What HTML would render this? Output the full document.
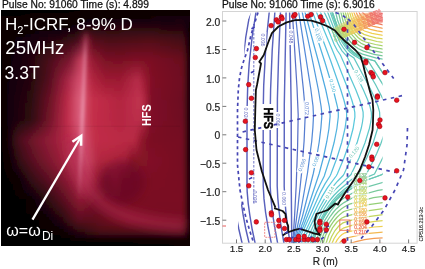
<!DOCTYPE html><html><head><meta charset="utf-8"><style>html,body{margin:0;padding:0;background:#fff;}svg{display:block;font-family:"Liberation Sans",sans-serif;will-change:transform;}</style></head><body><svg xmlns="http://www.w3.org/2000/svg" width="425" height="269" viewBox="0 0 425 269" font-family='"Liberation Sans", sans-serif'>
<rect width="425" height="269" fill="#fff"/>
<text x="2" y="7.5" font-size="10.25" fill="#111" stroke="#111" stroke-width="0.25">Pulse No: 91060 Time (s): 4.899</text>
<text x="222" y="7.5" font-size="10.25" fill="#111" stroke="#111" stroke-width="0.25">Pulse No: 91060 Time (s): 6.9016</text>
<defs><clipPath id="pc"><rect x="1" y="10" width="189" height="236"/></clipPath><filter id="b4u" filterUnits="userSpaceOnUse" x="0" y="0" width="200" height="260"><feGaussianBlur stdDeviation="5"/></filter><filter id="pb" x="-10%" y="-10%" width="120%" height="120%"><feGaussianBlur stdDeviation="2.2"/></filter><filter id="b1" x="-10%" y="-10%" width="120%" height="120%"><feGaussianBlur stdDeviation="1.0"/></filter><filter id="b3" x="-10%" y="-10%" width="120%" height="120%"><feGaussianBlur stdDeviation="3"/></filter><filter id="b2s" filterUnits="userSpaceOnUse" x="0" y="0" width="200" height="260"><feGaussianBlur stdDeviation="1.8"/></filter></defs>
<g clip-path="url(#pc)">
<defs><linearGradient id="r0" x1="-10" x2="200" y1="0" y2="0" gradientUnits="userSpaceOnUse"><stop offset="0.048" stop-color="#050103"/><stop offset="0.476" stop-color="#060103"/><stop offset="0.952" stop-color="#080203"/></linearGradient><linearGradient id="r1" x1="-10" x2="200" y1="0" y2="0" gradientUnits="userSpaceOnUse"><stop offset="0.048" stop-color="#050103"/><stop offset="0.476" stop-color="#060103"/><stop offset="0.952" stop-color="#080203"/></linearGradient><linearGradient id="r2" x1="-10" x2="200" y1="0" y2="0" gradientUnits="userSpaceOnUse"><stop offset="0.048" stop-color="#050103"/><stop offset="0.476" stop-color="#070103"/><stop offset="0.952" stop-color="#0b0204"/></linearGradient><linearGradient id="r3" x1="-10" x2="200" y1="0" y2="0" gradientUnits="userSpaceOnUse"><stop offset="0.048" stop-color="#060103"/><stop offset="0.476" stop-color="#080104"/><stop offset="0.952" stop-color="#110306"/></linearGradient><linearGradient id="r4" x1="-10" x2="200" y1="0" y2="0" gradientUnits="userSpaceOnUse"><stop offset="0.048" stop-color="#070203"/><stop offset="0.476" stop-color="#090204"/><stop offset="0.952" stop-color="#170308"/></linearGradient><linearGradient id="r5" x1="-10" x2="200" y1="0" y2="0" gradientUnits="userSpaceOnUse"><stop offset="0.048" stop-color="#080204"/><stop offset="0.381" stop-color="#0a0204"/><stop offset="0.476" stop-color="#100307"/><stop offset="0.714" stop-color="#170309"/><stop offset="0.919" stop-color="#1a0409"/><stop offset="0.952" stop-color="#140307"/></linearGradient><linearGradient id="r6" x1="-10" x2="200" y1="0" y2="0" gradientUnits="userSpaceOnUse"><stop offset="0.048" stop-color="#090204"/><stop offset="0.381" stop-color="#0c0205"/><stop offset="0.476" stop-color="#190409"/><stop offset="0.714" stop-color="#1f050b"/><stop offset="0.919" stop-color="#1f050b"/><stop offset="0.952" stop-color="#100206"/></linearGradient><linearGradient id="r7" x1="-10" x2="200" y1="0" y2="0" gradientUnits="userSpaceOnUse"><stop offset="0.048" stop-color="#090204"/><stop offset="0.381" stop-color="#0d0206"/><stop offset="0.476" stop-color="#21050c"/><stop offset="0.714" stop-color="#26060e"/><stop offset="0.919" stop-color="#23050d"/><stop offset="0.952" stop-color="#0c0205"/></linearGradient><linearGradient id="r8" x1="-10" x2="200" y1="0" y2="0" gradientUnits="userSpaceOnUse"><stop offset="0.048" stop-color="#090204"/><stop offset="0.105" stop-color="#0b0205"/><stop offset="0.190" stop-color="#0d0205"/><stop offset="0.333" stop-color="#110307"/><stop offset="0.381" stop-color="#130308"/><stop offset="0.419" stop-color="#1d050b"/><stop offset="0.457" stop-color="#2e0912"/><stop offset="0.476" stop-color="#2e0811"/><stop offset="0.490" stop-color="#2c070f"/><stop offset="0.571" stop-color="#2c060f"/><stop offset="0.667" stop-color="#2e0710"/><stop offset="0.714" stop-color="#2f0710"/><stop offset="0.762" stop-color="#2e0710"/><stop offset="0.919" stop-color="#29060e"/><stop offset="0.952" stop-color="#0a0204"/></linearGradient><linearGradient id="r9" x1="-10" x2="200" y1="0" y2="0" gradientUnits="userSpaceOnUse"><stop offset="0.048" stop-color="#090204"/><stop offset="0.105" stop-color="#0c0205"/><stop offset="0.190" stop-color="#0f0206"/><stop offset="0.333" stop-color="#180409"/><stop offset="0.381" stop-color="#1e050b"/><stop offset="0.419" stop-color="#27070f"/><stop offset="0.457" stop-color="#490f1e"/><stop offset="0.476" stop-color="#400b18"/><stop offset="0.490" stop-color="#370813"/><stop offset="0.571" stop-color="#340711"/><stop offset="0.667" stop-color="#370812"/><stop offset="0.714" stop-color="#380812"/><stop offset="0.762" stop-color="#390812"/><stop offset="0.919" stop-color="#310710"/><stop offset="0.952" stop-color="#0a0204"/></linearGradient><linearGradient id="r10" x1="-10" x2="200" y1="0" y2="0" gradientUnits="userSpaceOnUse"><stop offset="0.048" stop-color="#080204"/><stop offset="0.105" stop-color="#0d0205"/><stop offset="0.190" stop-color="#110307"/><stop offset="0.333" stop-color="#1f050c"/><stop offset="0.381" stop-color="#28070f"/><stop offset="0.419" stop-color="#320913"/><stop offset="0.457" stop-color="#641629"/><stop offset="0.476" stop-color="#520f1e"/><stop offset="0.490" stop-color="#430916"/><stop offset="0.571" stop-color="#3d0813"/><stop offset="0.667" stop-color="#400914"/><stop offset="0.714" stop-color="#420915"/><stop offset="0.762" stop-color="#430915"/><stop offset="0.919" stop-color="#380712"/><stop offset="0.952" stop-color="#0b0204"/></linearGradient><linearGradient id="r11" x1="-10" x2="200" y1="0" y2="0" gradientUnits="userSpaceOnUse"><stop offset="0.048" stop-color="#080203"/><stop offset="0.105" stop-color="#0e0206"/><stop offset="0.190" stop-color="#140308"/><stop offset="0.333" stop-color="#27060e"/><stop offset="0.381" stop-color="#320813"/><stop offset="0.419" stop-color="#3d0b17"/><stop offset="0.457" stop-color="#7f1d35"/><stop offset="0.476" stop-color="#641325"/><stop offset="0.490" stop-color="#4f0b19"/><stop offset="0.571" stop-color="#450916"/><stop offset="0.667" stop-color="#490916"/><stop offset="0.714" stop-color="#4b0917"/><stop offset="0.762" stop-color="#4e0917"/><stop offset="0.919" stop-color="#400813"/><stop offset="0.952" stop-color="#0b0204"/></linearGradient><linearGradient id="r12" x1="-10" x2="200" y1="0" y2="0" gradientUnits="userSpaceOnUse"><stop offset="0.048" stop-color="#070203"/><stop offset="0.105" stop-color="#0e0206"/><stop offset="0.190" stop-color="#160309"/><stop offset="0.286" stop-color="#26060e"/><stop offset="0.333" stop-color="#2f0711"/><stop offset="0.381" stop-color="#3c0a17"/><stop offset="0.419" stop-color="#4a0e1d"/><stop offset="0.438" stop-color="#6f192e"/><stop offset="0.457" stop-color="#90223c"/><stop offset="0.486" stop-color="#610f21"/><stop offset="0.490" stop-color="#590d1d"/><stop offset="0.548" stop-color="#500a19"/><stop offset="0.571" stop-color="#4d0a18"/><stop offset="0.619" stop-color="#4f0a18"/><stop offset="0.667" stop-color="#510a18"/><stop offset="0.690" stop-color="#520a19"/><stop offset="0.762" stop-color="#560a19"/><stop offset="0.919" stop-color="#470915"/><stop offset="0.952" stop-color="#0b0204"/></linearGradient><linearGradient id="r13" x1="-10" x2="200" y1="0" y2="0" gradientUnits="userSpaceOnUse"><stop offset="0.048" stop-color="#070103"/><stop offset="0.105" stop-color="#0f0206"/><stop offset="0.190" stop-color="#170409"/><stop offset="0.286" stop-color="#2c0710"/><stop offset="0.333" stop-color="#370914"/><stop offset="0.381" stop-color="#460c1a"/><stop offset="0.419" stop-color="#5a1425"/><stop offset="0.438" stop-color="#7e2036"/><stop offset="0.457" stop-color="#96253f"/><stop offset="0.486" stop-color="#6a1124"/><stop offset="0.490" stop-color="#630f20"/><stop offset="0.548" stop-color="#570b1b"/><stop offset="0.571" stop-color="#540b1a"/><stop offset="0.619" stop-color="#550b1a"/><stop offset="0.667" stop-color="#580b1a"/><stop offset="0.690" stop-color="#590c1b"/><stop offset="0.762" stop-color="#5c0b1b"/><stop offset="0.919" stop-color="#4c0916"/><stop offset="0.952" stop-color="#0c0204"/></linearGradient><linearGradient id="r14" x1="-10" x2="200" y1="0" y2="0" gradientUnits="userSpaceOnUse"><stop offset="0.048" stop-color="#060103"/><stop offset="0.105" stop-color="#0f0206"/><stop offset="0.190" stop-color="#19040a"/><stop offset="0.286" stop-color="#320812"/><stop offset="0.333" stop-color="#3f0b17"/><stop offset="0.381" stop-color="#500e1e"/><stop offset="0.419" stop-color="#6b1a2e"/><stop offset="0.438" stop-color="#8c263e"/><stop offset="0.457" stop-color="#9c2742"/><stop offset="0.486" stop-color="#721327"/><stop offset="0.490" stop-color="#6c1123"/><stop offset="0.548" stop-color="#5e0d1d"/><stop offset="0.571" stop-color="#5b0c1c"/><stop offset="0.619" stop-color="#5c0c1c"/><stop offset="0.667" stop-color="#5f0d1c"/><stop offset="0.690" stop-color="#610d1d"/><stop offset="0.762" stop-color="#620c1c"/><stop offset="0.919" stop-color="#520a18"/><stop offset="0.952" stop-color="#0c0205"/></linearGradient><linearGradient id="r15" x1="-10" x2="200" y1="0" y2="0" gradientUnits="userSpaceOnUse"><stop offset="0.048" stop-color="#060103"/><stop offset="0.105" stop-color="#100206"/><stop offset="0.190" stop-color="#1b040a"/><stop offset="0.286" stop-color="#380914"/><stop offset="0.333" stop-color="#480c1a"/><stop offset="0.381" stop-color="#5a1022"/><stop offset="0.419" stop-color="#7b2036"/><stop offset="0.438" stop-color="#9b2d47"/><stop offset="0.457" stop-color="#a22a45"/><stop offset="0.486" stop-color="#7b1529"/><stop offset="0.490" stop-color="#761327"/><stop offset="0.548" stop-color="#650e1f"/><stop offset="0.571" stop-color="#630d1e"/><stop offset="0.619" stop-color="#630d1d"/><stop offset="0.667" stop-color="#660e1e"/><stop offset="0.690" stop-color="#680e1f"/><stop offset="0.762" stop-color="#680d1e"/><stop offset="0.919" stop-color="#570a19"/><stop offset="0.952" stop-color="#0d0205"/></linearGradient><linearGradient id="r16" x1="-10" x2="200" y1="0" y2="0" gradientUnits="userSpaceOnUse"><stop offset="0.048" stop-color="#060103"/><stop offset="0.105" stop-color="#100206"/><stop offset="0.190" stop-color="#1d040b"/><stop offset="0.286" stop-color="#3e0a16"/><stop offset="0.333" stop-color="#500e1e"/><stop offset="0.381" stop-color="#641326"/><stop offset="0.419" stop-color="#8c263e"/><stop offset="0.438" stop-color="#aa334f"/><stop offset="0.457" stop-color="#a82c48"/><stop offset="0.486" stop-color="#84162c"/><stop offset="0.490" stop-color="#80152a"/><stop offset="0.548" stop-color="#6b0f21"/><stop offset="0.571" stop-color="#6a0e20"/><stop offset="0.619" stop-color="#6a0e1f"/><stop offset="0.667" stop-color="#6d0f20"/><stop offset="0.690" stop-color="#6f0f21"/><stop offset="0.762" stop-color="#6f0e20"/><stop offset="0.919" stop-color="#5d0b1b"/><stop offset="0.952" stop-color="#0d0205"/></linearGradient><linearGradient id="r17" x1="-10" x2="200" y1="0" y2="0" gradientUnits="userSpaceOnUse"><stop offset="0.048" stop-color="#050103"/><stop offset="0.105" stop-color="#100207"/><stop offset="0.190" stop-color="#1f050b"/><stop offset="0.286" stop-color="#440a18"/><stop offset="0.333" stop-color="#590f21"/><stop offset="0.381" stop-color="#6f152a"/><stop offset="0.419" stop-color="#9c2c46"/><stop offset="0.438" stop-color="#b93a57"/><stop offset="0.457" stop-color="#ae2f4b"/><stop offset="0.486" stop-color="#8c182f"/><stop offset="0.490" stop-color="#89172d"/><stop offset="0.548" stop-color="#721023"/><stop offset="0.571" stop-color="#711022"/><stop offset="0.619" stop-color="#700f21"/><stop offset="0.667" stop-color="#741022"/><stop offset="0.690" stop-color="#761023"/><stop offset="0.762" stop-color="#750f21"/><stop offset="0.919" stop-color="#630c1c"/><stop offset="0.952" stop-color="#0e0205"/></linearGradient><linearGradient id="r18" x1="-10" x2="200" y1="0" y2="0" gradientUnits="userSpaceOnUse"><stop offset="0.048" stop-color="#050103"/><stop offset="0.105" stop-color="#110207"/><stop offset="0.190" stop-color="#21050c"/><stop offset="0.286" stop-color="#4a0b1b"/><stop offset="0.333" stop-color="#611124"/><stop offset="0.381" stop-color="#79172e"/><stop offset="0.419" stop-color="#ad324e"/><stop offset="0.438" stop-color="#c8415f"/><stop offset="0.457" stop-color="#b4314e"/><stop offset="0.486" stop-color="#951a32"/><stop offset="0.490" stop-color="#931931"/><stop offset="0.548" stop-color="#791125"/><stop offset="0.571" stop-color="#781124"/><stop offset="0.619" stop-color="#771023"/><stop offset="0.667" stop-color="#7c1124"/><stop offset="0.690" stop-color="#7e1125"/><stop offset="0.762" stop-color="#7b0f23"/><stop offset="0.919" stop-color="#680c1e"/><stop offset="0.952" stop-color="#0e0205"/></linearGradient><linearGradient id="r19" x1="-10" x2="200" y1="0" y2="0" gradientUnits="userSpaceOnUse"><stop offset="0.048" stop-color="#050103"/><stop offset="0.105" stop-color="#110307"/><stop offset="0.190" stop-color="#21050c"/><stop offset="0.276" stop-color="#480b1a"/><stop offset="0.286" stop-color="#4d0c1c"/><stop offset="0.362" stop-color="#77162d"/><stop offset="0.381" stop-color="#811a32"/><stop offset="0.433" stop-color="#c6415f"/><stop offset="0.438" stop-color="#cb4362"/><stop offset="0.486" stop-color="#9a1c34"/><stop offset="0.548" stop-color="#7f1227"/><stop offset="0.619" stop-color="#7d1125"/><stop offset="0.690" stop-color="#851429"/><stop offset="0.705" stop-color="#851429"/><stop offset="0.743" stop-color="#801125"/><stop offset="0.762" stop-color="#7d1024"/><stop offset="0.771" stop-color="#7b0f23"/><stop offset="0.919" stop-color="#6a0c1e"/><stop offset="0.952" stop-color="#0e0205"/></linearGradient><linearGradient id="r20" x1="-10" x2="200" y1="0" y2="0" gradientUnits="userSpaceOnUse"><stop offset="0.048" stop-color="#050103"/><stop offset="0.105" stop-color="#120307"/><stop offset="0.190" stop-color="#22050c"/><stop offset="0.276" stop-color="#490b1a"/><stop offset="0.286" stop-color="#4f0c1c"/><stop offset="0.362" stop-color="#7e1830"/><stop offset="0.381" stop-color="#891d37"/><stop offset="0.433" stop-color="#c94462"/><stop offset="0.438" stop-color="#cd4564"/><stop offset="0.486" stop-color="#9e1d36"/><stop offset="0.548" stop-color="#841429"/><stop offset="0.619" stop-color="#821327"/><stop offset="0.690" stop-color="#8d182e"/><stop offset="0.705" stop-color="#8e192f"/><stop offset="0.743" stop-color="#841227"/><stop offset="0.762" stop-color="#7f1025"/><stop offset="0.771" stop-color="#7c0f24"/><stop offset="0.919" stop-color="#6b0d1f"/><stop offset="0.952" stop-color="#0e0205"/></linearGradient><linearGradient id="r21" x1="-10" x2="200" y1="0" y2="0" gradientUnits="userSpaceOnUse"><stop offset="0.048" stop-color="#050103"/><stop offset="0.105" stop-color="#130307"/><stop offset="0.190" stop-color="#22050c"/><stop offset="0.276" stop-color="#4b0b1b"/><stop offset="0.286" stop-color="#510d1d"/><stop offset="0.362" stop-color="#851a33"/><stop offset="0.381" stop-color="#91213b"/><stop offset="0.433" stop-color="#cc4765"/><stop offset="0.438" stop-color="#cf4766"/><stop offset="0.486" stop-color="#a21f38"/><stop offset="0.548" stop-color="#89152b"/><stop offset="0.619" stop-color="#871429"/><stop offset="0.690" stop-color="#951c33"/><stop offset="0.705" stop-color="#971d34"/><stop offset="0.743" stop-color="#881328"/><stop offset="0.762" stop-color="#811125"/><stop offset="0.771" stop-color="#7d0f24"/><stop offset="0.919" stop-color="#6c0d1f"/><stop offset="0.952" stop-color="#0e0205"/></linearGradient><linearGradient id="r22" x1="-10" x2="200" y1="0" y2="0" gradientUnits="userSpaceOnUse"><stop offset="0.048" stop-color="#050103"/><stop offset="0.105" stop-color="#130308"/><stop offset="0.190" stop-color="#23050c"/><stop offset="0.276" stop-color="#4c0c1b"/><stop offset="0.286" stop-color="#530d1e"/><stop offset="0.362" stop-color="#8c1c36"/><stop offset="0.381" stop-color="#982440"/><stop offset="0.433" stop-color="#cf4a68"/><stop offset="0.438" stop-color="#d04968"/><stop offset="0.486" stop-color="#a7213a"/><stop offset="0.548" stop-color="#8f162d"/><stop offset="0.619" stop-color="#8c152b"/><stop offset="0.690" stop-color="#9d1f38"/><stop offset="0.705" stop-color="#9f213a"/><stop offset="0.743" stop-color="#8c142a"/><stop offset="0.762" stop-color="#821126"/><stop offset="0.771" stop-color="#7d0f24"/><stop offset="0.919" stop-color="#6d0d1f"/><stop offset="0.952" stop-color="#0e0205"/></linearGradient><linearGradient id="r23" x1="-10" x2="200" y1="0" y2="0" gradientUnits="userSpaceOnUse"><stop offset="0.048" stop-color="#050103"/><stop offset="0.105" stop-color="#140308"/><stop offset="0.190" stop-color="#23060c"/><stop offset="0.276" stop-color="#4d0c1c"/><stop offset="0.286" stop-color="#550e1f"/><stop offset="0.362" stop-color="#931d39"/><stop offset="0.381" stop-color="#a02844"/><stop offset="0.433" stop-color="#d24d6c"/><stop offset="0.438" stop-color="#d24b6a"/><stop offset="0.486" stop-color="#ab233c"/><stop offset="0.548" stop-color="#94182f"/><stop offset="0.619" stop-color="#92162d"/><stop offset="0.690" stop-color="#a4233d"/><stop offset="0.705" stop-color="#a82540"/><stop offset="0.743" stop-color="#8f152b"/><stop offset="0.762" stop-color="#841127"/><stop offset="0.771" stop-color="#7e1024"/><stop offset="0.919" stop-color="#6d0d1f"/><stop offset="0.952" stop-color="#0e0205"/></linearGradient><linearGradient id="r24" x1="-10" x2="200" y1="0" y2="0" gradientUnits="userSpaceOnUse"><stop offset="0.048" stop-color="#050103"/><stop offset="0.105" stop-color="#140308"/><stop offset="0.190" stop-color="#23060c"/><stop offset="0.276" stop-color="#4f0c1c"/><stop offset="0.286" stop-color="#570e20"/><stop offset="0.362" stop-color="#9a1f3c"/><stop offset="0.381" stop-color="#a82b49"/><stop offset="0.433" stop-color="#d6506f"/><stop offset="0.438" stop-color="#d34c6b"/><stop offset="0.486" stop-color="#af243e"/><stop offset="0.548" stop-color="#991931"/><stop offset="0.619" stop-color="#97182f"/><stop offset="0.690" stop-color="#ac2742"/><stop offset="0.705" stop-color="#b02a45"/><stop offset="0.743" stop-color="#93162d"/><stop offset="0.762" stop-color="#851227"/><stop offset="0.771" stop-color="#7e1025"/><stop offset="0.919" stop-color="#6e0d20"/><stop offset="0.952" stop-color="#0e0205"/></linearGradient><linearGradient id="r25" x1="-10" x2="200" y1="0" y2="0" gradientUnits="userSpaceOnUse"><stop offset="0.048" stop-color="#050103"/><stop offset="0.105" stop-color="#150308"/><stop offset="0.190" stop-color="#24060d"/><stop offset="0.200" stop-color="#29060e"/><stop offset="0.276" stop-color="#500c1d"/><stop offset="0.286" stop-color="#590f21"/><stop offset="0.362" stop-color="#a0213f"/><stop offset="0.371" stop-color="#a82746"/><stop offset="0.429" stop-color="#d54f6e"/><stop offset="0.433" stop-color="#d85272"/><stop offset="0.486" stop-color="#b32640"/><stop offset="0.548" stop-color="#9f1b33"/><stop offset="0.619" stop-color="#9c1931"/><stop offset="0.705" stop-color="#b72d4a"/><stop offset="0.714" stop-color="#b02843"/><stop offset="0.743" stop-color="#97172f"/><stop offset="0.762" stop-color="#871228"/><stop offset="0.771" stop-color="#7f1025"/><stop offset="0.919" stop-color="#6f0d20"/><stop offset="0.952" stop-color="#0e0205"/></linearGradient><linearGradient id="r26" x1="-10" x2="200" y1="0" y2="0" gradientUnits="userSpaceOnUse"><stop offset="0.048" stop-color="#050103"/><stop offset="0.105" stop-color="#150309"/><stop offset="0.190" stop-color="#25060d"/><stop offset="0.200" stop-color="#29070f"/><stop offset="0.276" stop-color="#540d1e"/><stop offset="0.286" stop-color="#5c0f21"/><stop offset="0.362" stop-color="#a32240"/><stop offset="0.371" stop-color="#ab2846"/><stop offset="0.429" stop-color="#d65271"/><stop offset="0.433" stop-color="#d95473"/><stop offset="0.486" stop-color="#b62742"/><stop offset="0.548" stop-color="#a31d36"/><stop offset="0.619" stop-color="#9f1b33"/><stop offset="0.705" stop-color="#b92e4b"/><stop offset="0.714" stop-color="#b22a45"/><stop offset="0.743" stop-color="#9a1930"/><stop offset="0.762" stop-color="#851228"/><stop offset="0.771" stop-color="#7f1025"/><stop offset="0.919" stop-color="#6e0d20"/><stop offset="0.952" stop-color="#0e0205"/></linearGradient><linearGradient id="r27" x1="-10" x2="200" y1="0" y2="0" gradientUnits="userSpaceOnUse"><stop offset="0.048" stop-color="#050103"/><stop offset="0.105" stop-color="#160409"/><stop offset="0.190" stop-color="#26060e"/><stop offset="0.200" stop-color="#2a070f"/><stop offset="0.276" stop-color="#570e1f"/><stop offset="0.286" stop-color="#5f1022"/><stop offset="0.362" stop-color="#a62341"/><stop offset="0.371" stop-color="#ae2847"/><stop offset="0.429" stop-color="#d75573"/><stop offset="0.433" stop-color="#d95674"/><stop offset="0.486" stop-color="#b92943"/><stop offset="0.548" stop-color="#a81f39"/><stop offset="0.619" stop-color="#a31c36"/><stop offset="0.705" stop-color="#ba2e4b"/><stop offset="0.714" stop-color="#b52b47"/><stop offset="0.743" stop-color="#9d1a32"/><stop offset="0.762" stop-color="#841228"/><stop offset="0.771" stop-color="#7f1025"/><stop offset="0.919" stop-color="#6e0d20"/><stop offset="0.952" stop-color="#0e0205"/></linearGradient><linearGradient id="r28" x1="-10" x2="200" y1="0" y2="0" gradientUnits="userSpaceOnUse"><stop offset="0.048" stop-color="#050103"/><stop offset="0.105" stop-color="#160409"/><stop offset="0.190" stop-color="#27060e"/><stop offset="0.200" stop-color="#2b0710"/><stop offset="0.276" stop-color="#5a0e20"/><stop offset="0.286" stop-color="#621023"/><stop offset="0.362" stop-color="#a92442"/><stop offset="0.371" stop-color="#b12947"/><stop offset="0.429" stop-color="#d85876"/><stop offset="0.433" stop-color="#da5875"/><stop offset="0.486" stop-color="#bc2a45"/><stop offset="0.548" stop-color="#ad223b"/><stop offset="0.619" stop-color="#a61e38"/><stop offset="0.705" stop-color="#bb2f4c"/><stop offset="0.714" stop-color="#b72d49"/><stop offset="0.743" stop-color="#9f1c34"/><stop offset="0.762" stop-color="#831127"/><stop offset="0.771" stop-color="#7e1026"/><stop offset="0.919" stop-color="#6e0d21"/><stop offset="0.952" stop-color="#0e0205"/></linearGradient><linearGradient id="r29" x1="-10" x2="200" y1="0" y2="0" gradientUnits="userSpaceOnUse"><stop offset="0.048" stop-color="#050103"/><stop offset="0.105" stop-color="#160409"/><stop offset="0.190" stop-color="#28070f"/><stop offset="0.200" stop-color="#2b0710"/><stop offset="0.276" stop-color="#5d0f21"/><stop offset="0.286" stop-color="#651124"/><stop offset="0.362" stop-color="#ac2542"/><stop offset="0.371" stop-color="#b42947"/><stop offset="0.429" stop-color="#da5b78"/><stop offset="0.433" stop-color="#da5a77"/><stop offset="0.486" stop-color="#be2c46"/><stop offset="0.548" stop-color="#b1243e"/><stop offset="0.619" stop-color="#aa203a"/><stop offset="0.705" stop-color="#bc304d"/><stop offset="0.714" stop-color="#ba2f4b"/><stop offset="0.743" stop-color="#a21d36"/><stop offset="0.762" stop-color="#821127"/><stop offset="0.771" stop-color="#7e1026"/><stop offset="0.919" stop-color="#6d0d21"/><stop offset="0.952" stop-color="#0e0205"/></linearGradient><linearGradient id="r30" x1="-10" x2="200" y1="0" y2="0" gradientUnits="userSpaceOnUse"><stop offset="0.048" stop-color="#050103"/><stop offset="0.105" stop-color="#170409"/><stop offset="0.190" stop-color="#29070f"/><stop offset="0.200" stop-color="#2c0710"/><stop offset="0.276" stop-color="#601022"/><stop offset="0.286" stop-color="#681125"/><stop offset="0.362" stop-color="#af2643"/><stop offset="0.371" stop-color="#b72a48"/><stop offset="0.429" stop-color="#db5e7a"/><stop offset="0.433" stop-color="#da5b78"/><stop offset="0.486" stop-color="#c12d48"/><stop offset="0.548" stop-color="#b62741"/><stop offset="0.619" stop-color="#ad213c"/><stop offset="0.705" stop-color="#bd304d"/><stop offset="0.714" stop-color="#bd304d"/><stop offset="0.743" stop-color="#a51f38"/><stop offset="0.762" stop-color="#811127"/><stop offset="0.771" stop-color="#7e1026"/><stop offset="0.919" stop-color="#6d0d21"/><stop offset="0.952" stop-color="#0e0205"/></linearGradient><linearGradient id="r31" x1="-10" x2="200" y1="0" y2="0" gradientUnits="userSpaceOnUse"><stop offset="0.048" stop-color="#050103"/><stop offset="0.105" stop-color="#170409"/><stop offset="0.190" stop-color="#2a0710"/><stop offset="0.200" stop-color="#2d0711"/><stop offset="0.276" stop-color="#641123"/><stop offset="0.286" stop-color="#6b1225"/><stop offset="0.362" stop-color="#b22744"/><stop offset="0.371" stop-color="#ba2a48"/><stop offset="0.429" stop-color="#dc617d"/><stop offset="0.433" stop-color="#db5d79"/><stop offset="0.486" stop-color="#c42f49"/><stop offset="0.548" stop-color="#ba2944"/><stop offset="0.619" stop-color="#b1233f"/><stop offset="0.705" stop-color="#bf314e"/><stop offset="0.714" stop-color="#bf324f"/><stop offset="0.743" stop-color="#a8203a"/><stop offset="0.762" stop-color="#7f1127"/><stop offset="0.771" stop-color="#7e1026"/><stop offset="0.919" stop-color="#6c0d21"/><stop offset="0.952" stop-color="#0e0205"/></linearGradient><linearGradient id="r32" x1="-10" x2="200" y1="0" y2="0" gradientUnits="userSpaceOnUse"><stop offset="0.048" stop-color="#050103"/><stop offset="0.105" stop-color="#180409"/><stop offset="0.200" stop-color="#2d0711"/><stop offset="0.286" stop-color="#6d1226"/><stop offset="0.371" stop-color="#bc2b48"/><stop offset="0.429" stop-color="#dd627e"/><stop offset="0.486" stop-color="#c52f4a"/><stop offset="0.619" stop-color="#b32440"/><stop offset="0.714" stop-color="#c0334f"/><stop offset="0.743" stop-color="#a9213b"/><stop offset="0.762" stop-color="#7f1027"/><stop offset="0.919" stop-color="#6c0d22"/><stop offset="0.952" stop-color="#0e0205"/></linearGradient><linearGradient id="r33" x1="-10" x2="200" y1="0" y2="0" gradientUnits="userSpaceOnUse"><stop offset="0.048" stop-color="#050103"/><stop offset="0.105" stop-color="#180409"/><stop offset="0.200" stop-color="#2e0811"/><stop offset="0.286" stop-color="#6e1327"/><stop offset="0.371" stop-color="#bd2b49"/><stop offset="0.429" stop-color="#dc617e"/><stop offset="0.486" stop-color="#c52f4a"/><stop offset="0.619" stop-color="#b32440"/><stop offset="0.714" stop-color="#c0324f"/><stop offset="0.743" stop-color="#a8203a"/><stop offset="0.762" stop-color="#7f1027"/><stop offset="0.919" stop-color="#6d0d22"/><stop offset="0.952" stop-color="#0e0205"/></linearGradient><linearGradient id="r34" x1="-10" x2="200" y1="0" y2="0" gradientUnits="userSpaceOnUse"><stop offset="0.048" stop-color="#050103"/><stop offset="0.105" stop-color="#180409"/><stop offset="0.200" stop-color="#2f0811"/><stop offset="0.286" stop-color="#701327"/><stop offset="0.371" stop-color="#be2c4a"/><stop offset="0.429" stop-color="#dc617d"/><stop offset="0.486" stop-color="#c52f49"/><stop offset="0.619" stop-color="#b32440"/><stop offset="0.714" stop-color="#bf324e"/><stop offset="0.743" stop-color="#a7203a"/><stop offset="0.762" stop-color="#7f1027"/><stop offset="0.919" stop-color="#6d0d22"/><stop offset="0.952" stop-color="#0e0205"/></linearGradient><linearGradient id="r35" x1="-10" x2="200" y1="0" y2="0" gradientUnits="userSpaceOnUse"><stop offset="0.048" stop-color="#050103"/><stop offset="0.105" stop-color="#180409"/><stop offset="0.200" stop-color="#2f0812"/><stop offset="0.286" stop-color="#711328"/><stop offset="0.371" stop-color="#be2c4a"/><stop offset="0.429" stop-color="#db607d"/><stop offset="0.486" stop-color="#c42f49"/><stop offset="0.619" stop-color="#b42541"/><stop offset="0.714" stop-color="#be314e"/><stop offset="0.743" stop-color="#a7203a"/><stop offset="0.762" stop-color="#7f1027"/><stop offset="0.919" stop-color="#6e0e22"/><stop offset="0.952" stop-color="#0e0205"/></linearGradient><linearGradient id="r36" x1="-10" x2="200" y1="0" y2="0" gradientUnits="userSpaceOnUse"><stop offset="0.048" stop-color="#050103"/><stop offset="0.105" stop-color="#180409"/><stop offset="0.200" stop-color="#300812"/><stop offset="0.286" stop-color="#721429"/><stop offset="0.371" stop-color="#bf2c4b"/><stop offset="0.429" stop-color="#db607d"/><stop offset="0.486" stop-color="#c42e49"/><stop offset="0.619" stop-color="#b42541"/><stop offset="0.714" stop-color="#be314d"/><stop offset="0.743" stop-color="#a6203a"/><stop offset="0.762" stop-color="#7f1027"/><stop offset="0.919" stop-color="#6e0e22"/><stop offset="0.952" stop-color="#0e0205"/></linearGradient><linearGradient id="r37" x1="-10" x2="200" y1="0" y2="0" gradientUnits="userSpaceOnUse"><stop offset="0.048" stop-color="#050103"/><stop offset="0.105" stop-color="#180409"/><stop offset="0.200" stop-color="#300812"/><stop offset="0.286" stop-color="#741429"/><stop offset="0.371" stop-color="#c02d4b"/><stop offset="0.429" stop-color="#db5f7d"/><stop offset="0.486" stop-color="#c42e49"/><stop offset="0.619" stop-color="#b42541"/><stop offset="0.714" stop-color="#bd304c"/><stop offset="0.743" stop-color="#a51f39"/><stop offset="0.762" stop-color="#7f1027"/><stop offset="0.919" stop-color="#6e0e22"/><stop offset="0.952" stop-color="#0e0205"/></linearGradient><linearGradient id="r38" x1="-10" x2="200" y1="0" y2="0" gradientUnits="userSpaceOnUse"><stop offset="0.048" stop-color="#050103"/><stop offset="0.105" stop-color="#180409"/><stop offset="0.200" stop-color="#310812"/><stop offset="0.286" stop-color="#75142a"/><stop offset="0.371" stop-color="#c12d4c"/><stop offset="0.429" stop-color="#da5e7c"/><stop offset="0.486" stop-color="#c42e48"/><stop offset="0.619" stop-color="#b42541"/><stop offset="0.714" stop-color="#bc304c"/><stop offset="0.743" stop-color="#a51f39"/><stop offset="0.762" stop-color="#7f1027"/><stop offset="0.919" stop-color="#6f0e22"/><stop offset="0.952" stop-color="#0e0205"/></linearGradient><linearGradient id="r39" x1="-10" x2="200" y1="0" y2="0" gradientUnits="userSpaceOnUse"><stop offset="0.048" stop-color="#050102"/><stop offset="0.086" stop-color="#110307"/><stop offset="0.105" stop-color="#19040a"/><stop offset="0.133" stop-color="#24060e"/><stop offset="0.200" stop-color="#380a15"/><stop offset="0.214" stop-color="#430c19"/><stop offset="0.286" stop-color="#79162c"/><stop offset="0.310" stop-color="#8c1c34"/><stop offset="0.371" stop-color="#c02d4b"/><stop offset="0.381" stop-color="#c43453"/><stop offset="0.429" stop-color="#d95c7b"/><stop offset="0.438" stop-color="#d65674"/><stop offset="0.486" stop-color="#c42f49"/><stop offset="0.500" stop-color="#c22d48"/><stop offset="0.619" stop-color="#b52642"/><stop offset="0.690" stop-color="#ba2c48"/><stop offset="0.714" stop-color="#b82d48"/><stop offset="0.724" stop-color="#af2742"/><stop offset="0.743" stop-color="#a01d37"/><stop offset="0.762" stop-color="#7e1026"/><stop offset="0.919" stop-color="#700e22"/><stop offset="0.952" stop-color="#0e0205"/></linearGradient><linearGradient id="r40" x1="-10" x2="200" y1="0" y2="0" gradientUnits="userSpaceOnUse"><stop offset="0.048" stop-color="#040102"/><stop offset="0.086" stop-color="#120307"/><stop offset="0.105" stop-color="#1c050b"/><stop offset="0.133" stop-color="#2a0710"/><stop offset="0.200" stop-color="#410b19"/><stop offset="0.214" stop-color="#4c0d1c"/><stop offset="0.286" stop-color="#7d172e"/><stop offset="0.310" stop-color="#8f1c35"/><stop offset="0.371" stop-color="#be2d4b"/><stop offset="0.381" stop-color="#c23351"/><stop offset="0.429" stop-color="#d85a79"/><stop offset="0.438" stop-color="#d65674"/><stop offset="0.486" stop-color="#c4304b"/><stop offset="0.500" stop-color="#c22d47"/><stop offset="0.619" stop-color="#b62642"/><stop offset="0.690" stop-color="#b92c47"/><stop offset="0.714" stop-color="#b22a44"/><stop offset="0.724" stop-color="#a9243e"/><stop offset="0.743" stop-color="#9b1b34"/><stop offset="0.762" stop-color="#7e1026"/><stop offset="0.919" stop-color="#710e22"/><stop offset="0.952" stop-color="#0e0205"/></linearGradient><linearGradient id="r41" x1="-10" x2="200" y1="0" y2="0" gradientUnits="userSpaceOnUse"><stop offset="0.048" stop-color="#040102"/><stop offset="0.086" stop-color="#120307"/><stop offset="0.105" stop-color="#1e050c"/><stop offset="0.133" stop-color="#300812"/><stop offset="0.200" stop-color="#4b0d1c"/><stop offset="0.214" stop-color="#550f1f"/><stop offset="0.286" stop-color="#811830"/><stop offset="0.310" stop-color="#911d37"/><stop offset="0.371" stop-color="#bd2c4b"/><stop offset="0.381" stop-color="#c13250"/><stop offset="0.429" stop-color="#d75876"/><stop offset="0.438" stop-color="#d65674"/><stop offset="0.486" stop-color="#c4324c"/><stop offset="0.500" stop-color="#c12d47"/><stop offset="0.619" stop-color="#b72743"/><stop offset="0.690" stop-color="#b92b47"/><stop offset="0.714" stop-color="#ad2640"/><stop offset="0.724" stop-color="#a4213a"/><stop offset="0.743" stop-color="#971931"/><stop offset="0.762" stop-color="#7d1025"/><stop offset="0.919" stop-color="#720e22"/><stop offset="0.952" stop-color="#0e0205"/></linearGradient><linearGradient id="r42" x1="-10" x2="200" y1="0" y2="0" gradientUnits="userSpaceOnUse"><stop offset="0.048" stop-color="#040102"/><stop offset="0.086" stop-color="#120307"/><stop offset="0.105" stop-color="#21060d"/><stop offset="0.133" stop-color="#360915"/><stop offset="0.200" stop-color="#540f1f"/><stop offset="0.214" stop-color="#5d1123"/><stop offset="0.286" stop-color="#861931"/><stop offset="0.310" stop-color="#941e38"/><stop offset="0.371" stop-color="#bb2c4a"/><stop offset="0.381" stop-color="#c0314f"/><stop offset="0.429" stop-color="#d55674"/><stop offset="0.438" stop-color="#d65675"/><stop offset="0.486" stop-color="#c5334e"/><stop offset="0.500" stop-color="#c12d47"/><stop offset="0.619" stop-color="#b82843"/><stop offset="0.690" stop-color="#b82b46"/><stop offset="0.714" stop-color="#a8233c"/><stop offset="0.724" stop-color="#9e1d36"/><stop offset="0.743" stop-color="#92172e"/><stop offset="0.762" stop-color="#7c0f25"/><stop offset="0.919" stop-color="#730e22"/><stop offset="0.952" stop-color="#0e0205"/></linearGradient><linearGradient id="r43" x1="-10" x2="200" y1="0" y2="0" gradientUnits="userSpaceOnUse"><stop offset="0.048" stop-color="#040102"/><stop offset="0.086" stop-color="#120307"/><stop offset="0.105" stop-color="#23060e"/><stop offset="0.133" stop-color="#3c0a17"/><stop offset="0.200" stop-color="#5d1123"/><stop offset="0.214" stop-color="#661226"/><stop offset="0.286" stop-color="#8a1a33"/><stop offset="0.310" stop-color="#971e39"/><stop offset="0.371" stop-color="#ba2c4a"/><stop offset="0.381" stop-color="#be2f4e"/><stop offset="0.429" stop-color="#d45372"/><stop offset="0.438" stop-color="#d65675"/><stop offset="0.486" stop-color="#c5344f"/><stop offset="0.500" stop-color="#c12d47"/><stop offset="0.619" stop-color="#b92944"/><stop offset="0.690" stop-color="#b82a45"/><stop offset="0.714" stop-color="#a32038"/><stop offset="0.724" stop-color="#981a32"/><stop offset="0.743" stop-color="#8d152c"/><stop offset="0.762" stop-color="#7b0f24"/><stop offset="0.919" stop-color="#740e22"/><stop offset="0.952" stop-color="#0e0205"/></linearGradient><linearGradient id="r44" x1="-10" x2="200" y1="0" y2="0" gradientUnits="userSpaceOnUse"><stop offset="0.048" stop-color="#040102"/><stop offset="0.086" stop-color="#130307"/><stop offset="0.105" stop-color="#25070f"/><stop offset="0.133" stop-color="#420b19"/><stop offset="0.200" stop-color="#661226"/><stop offset="0.214" stop-color="#6e1429"/><stop offset="0.286" stop-color="#8e1c35"/><stop offset="0.310" stop-color="#991f3a"/><stop offset="0.371" stop-color="#b92b4a"/><stop offset="0.381" stop-color="#bd2e4d"/><stop offset="0.429" stop-color="#d35170"/><stop offset="0.438" stop-color="#d65675"/><stop offset="0.486" stop-color="#c53551"/><stop offset="0.500" stop-color="#c12d47"/><stop offset="0.619" stop-color="#ba2a44"/><stop offset="0.690" stop-color="#b82944"/><stop offset="0.714" stop-color="#9d1c34"/><stop offset="0.724" stop-color="#92162d"/><stop offset="0.743" stop-color="#881329"/><stop offset="0.762" stop-color="#7b0f24"/><stop offset="0.919" stop-color="#750e22"/><stop offset="0.952" stop-color="#0e0205"/></linearGradient><linearGradient id="r45" x1="-10" x2="200" y1="0" y2="0" gradientUnits="userSpaceOnUse"><stop offset="0.048" stop-color="#040102"/><stop offset="0.086" stop-color="#130307"/><stop offset="0.095" stop-color="#1d050b"/><stop offset="0.133" stop-color="#460c1b"/><stop offset="0.152" stop-color="#510e1f"/><stop offset="0.214" stop-color="#75152b"/><stop offset="0.238" stop-color="#7e182f"/><stop offset="0.310" stop-color="#9b1f3b"/><stop offset="0.333" stop-color="#a62440"/><stop offset="0.381" stop-color="#bc2d4c"/><stop offset="0.405" stop-color="#c73e5d"/><stop offset="0.438" stop-color="#d65675"/><stop offset="0.452" stop-color="#d14d6b"/><stop offset="0.500" stop-color="#c12d48"/><stop offset="0.514" stop-color="#c02d47"/><stop offset="0.581" stop-color="#bc2b45"/><stop offset="0.643" stop-color="#b92a44"/><stop offset="0.676" stop-color="#b72943"/><stop offset="0.690" stop-color="#b62843"/><stop offset="0.724" stop-color="#8d142a"/><stop offset="0.762" stop-color="#7a0f23"/><stop offset="0.919" stop-color="#760e22"/><stop offset="0.952" stop-color="#0e0205"/></linearGradient><linearGradient id="r46" x1="-10" x2="200" y1="0" y2="0" gradientUnits="userSpaceOnUse"><stop offset="0.048" stop-color="#040102"/><stop offset="0.086" stop-color="#120307"/><stop offset="0.095" stop-color="#1b050a"/><stop offset="0.133" stop-color="#420c19"/><stop offset="0.152" stop-color="#4e0e1e"/><stop offset="0.214" stop-color="#72152a"/><stop offset="0.238" stop-color="#7c172e"/><stop offset="0.310" stop-color="#981e3a"/><stop offset="0.333" stop-color="#a3233f"/><stop offset="0.381" stop-color="#ba2e4c"/><stop offset="0.405" stop-color="#c63d5c"/><stop offset="0.438" stop-color="#d45473"/><stop offset="0.452" stop-color="#d14d6b"/><stop offset="0.500" stop-color="#bf2e48"/><stop offset="0.514" stop-color="#be2c46"/><stop offset="0.581" stop-color="#bb2a44"/><stop offset="0.643" stop-color="#b72843"/><stop offset="0.676" stop-color="#b0263f"/><stop offset="0.690" stop-color="#af253e"/><stop offset="0.724" stop-color="#8c1329"/><stop offset="0.762" stop-color="#7c0f24"/><stop offset="0.919" stop-color="#760e22"/><stop offset="0.952" stop-color="#0e0205"/></linearGradient><linearGradient id="r47" x1="-10" x2="200" y1="0" y2="0" gradientUnits="userSpaceOnUse"><stop offset="0.048" stop-color="#030102"/><stop offset="0.086" stop-color="#110307"/><stop offset="0.095" stop-color="#180409"/><stop offset="0.133" stop-color="#3e0b18"/><stop offset="0.152" stop-color="#4b0d1c"/><stop offset="0.214" stop-color="#6e1429"/><stop offset="0.238" stop-color="#79162d"/><stop offset="0.310" stop-color="#961e38"/><stop offset="0.333" stop-color="#a1223d"/><stop offset="0.381" stop-color="#b92e4c"/><stop offset="0.405" stop-color="#c53d5c"/><stop offset="0.438" stop-color="#d35171"/><stop offset="0.452" stop-color="#d14d6c"/><stop offset="0.500" stop-color="#be2e49"/><stop offset="0.514" stop-color="#bc2b45"/><stop offset="0.581" stop-color="#b92943"/><stop offset="0.643" stop-color="#b42741"/><stop offset="0.676" stop-color="#a9223b"/><stop offset="0.690" stop-color="#a8223a"/><stop offset="0.724" stop-color="#8a1329"/><stop offset="0.762" stop-color="#7d1024"/><stop offset="0.919" stop-color="#760e22"/><stop offset="0.952" stop-color="#0e0205"/></linearGradient><linearGradient id="r48" x1="-10" x2="200" y1="0" y2="0" gradientUnits="userSpaceOnUse"><stop offset="0.048" stop-color="#030102"/><stop offset="0.086" stop-color="#0f0306"/><stop offset="0.095" stop-color="#160408"/><stop offset="0.133" stop-color="#3b0a16"/><stop offset="0.152" stop-color="#480d1b"/><stop offset="0.214" stop-color="#6b1328"/><stop offset="0.238" stop-color="#76162c"/><stop offset="0.310" stop-color="#941d37"/><stop offset="0.333" stop-color="#9f213c"/><stop offset="0.381" stop-color="#b82f4c"/><stop offset="0.405" stop-color="#c43c5b"/><stop offset="0.438" stop-color="#d14f6f"/><stop offset="0.452" stop-color="#d04d6c"/><stop offset="0.500" stop-color="#bd2f49"/><stop offset="0.514" stop-color="#ba2a44"/><stop offset="0.581" stop-color="#b72842"/><stop offset="0.643" stop-color="#b22640"/><stop offset="0.676" stop-color="#a11f37"/><stop offset="0.690" stop-color="#a01f36"/><stop offset="0.724" stop-color="#891329"/><stop offset="0.762" stop-color="#7e1025"/><stop offset="0.919" stop-color="#760e22"/><stop offset="0.952" stop-color="#0e0205"/></linearGradient><linearGradient id="r49" x1="-10" x2="200" y1="0" y2="0" gradientUnits="userSpaceOnUse"><stop offset="0.048" stop-color="#030102"/><stop offset="0.086" stop-color="#0e0306"/><stop offset="0.095" stop-color="#140307"/><stop offset="0.133" stop-color="#370a15"/><stop offset="0.152" stop-color="#450c1a"/><stop offset="0.214" stop-color="#671327"/><stop offset="0.238" stop-color="#73152b"/><stop offset="0.310" stop-color="#921d36"/><stop offset="0.333" stop-color="#9c203b"/><stop offset="0.381" stop-color="#b62f4d"/><stop offset="0.405" stop-color="#c33b5a"/><stop offset="0.438" stop-color="#cf4d6c"/><stop offset="0.452" stop-color="#d04d6c"/><stop offset="0.500" stop-color="#bc2f4a"/><stop offset="0.514" stop-color="#b82944"/><stop offset="0.581" stop-color="#b52741"/><stop offset="0.643" stop-color="#af243e"/><stop offset="0.676" stop-color="#9a1c33"/><stop offset="0.690" stop-color="#991b32"/><stop offset="0.724" stop-color="#881328"/><stop offset="0.762" stop-color="#7f1125"/><stop offset="0.919" stop-color="#760e22"/><stop offset="0.952" stop-color="#0e0205"/></linearGradient><linearGradient id="r50" x1="-10" x2="200" y1="0" y2="0" gradientUnits="userSpaceOnUse"><stop offset="0.048" stop-color="#030102"/><stop offset="0.086" stop-color="#0d0205"/><stop offset="0.095" stop-color="#110306"/><stop offset="0.133" stop-color="#330914"/><stop offset="0.152" stop-color="#420c19"/><stop offset="0.214" stop-color="#641225"/><stop offset="0.238" stop-color="#70152a"/><stop offset="0.310" stop-color="#8f1c35"/><stop offset="0.333" stop-color="#9a1f39"/><stop offset="0.381" stop-color="#b52f4d"/><stop offset="0.405" stop-color="#c23a59"/><stop offset="0.438" stop-color="#cd4b6a"/><stop offset="0.452" stop-color="#cf4e6d"/><stop offset="0.500" stop-color="#bb304b"/><stop offset="0.514" stop-color="#b62943"/><stop offset="0.581" stop-color="#b32640"/><stop offset="0.643" stop-color="#ad233d"/><stop offset="0.676" stop-color="#93192e"/><stop offset="0.690" stop-color="#92182e"/><stop offset="0.724" stop-color="#871328"/><stop offset="0.762" stop-color="#801125"/><stop offset="0.919" stop-color="#760e22"/><stop offset="0.952" stop-color="#0e0205"/></linearGradient><linearGradient id="r51" x1="-10" x2="200" y1="0" y2="0" gradientUnits="userSpaceOnUse"><stop offset="0.048" stop-color="#030102"/><stop offset="0.086" stop-color="#0c0205"/><stop offset="0.095" stop-color="#0f0306"/><stop offset="0.133" stop-color="#2f0812"/><stop offset="0.152" stop-color="#3f0b18"/><stop offset="0.214" stop-color="#611124"/><stop offset="0.238" stop-color="#6e1429"/><stop offset="0.310" stop-color="#8d1b34"/><stop offset="0.333" stop-color="#981e38"/><stop offset="0.381" stop-color="#b3304d"/><stop offset="0.405" stop-color="#c13a59"/><stop offset="0.438" stop-color="#cb4968"/><stop offset="0.452" stop-color="#cf4e6d"/><stop offset="0.500" stop-color="#ba304b"/><stop offset="0.514" stop-color="#b42842"/><stop offset="0.581" stop-color="#b2253f"/><stop offset="0.643" stop-color="#aa213c"/><stop offset="0.676" stop-color="#8c152a"/><stop offset="0.690" stop-color="#8b152a"/><stop offset="0.724" stop-color="#851327"/><stop offset="0.762" stop-color="#811126"/><stop offset="0.919" stop-color="#760e22"/><stop offset="0.952" stop-color="#0e0205"/></linearGradient><linearGradient id="r52" x1="-10" x2="200" y1="0" y2="0" gradientUnits="userSpaceOnUse"><stop offset="0.048" stop-color="#030102"/><stop offset="0.095" stop-color="#0e0205"/><stop offset="0.133" stop-color="#2b0710"/><stop offset="0.152" stop-color="#3a0a16"/><stop offset="0.190" stop-color="#4f0e1e"/><stop offset="0.238" stop-color="#691327"/><stop offset="0.276" stop-color="#7a172d"/><stop offset="0.333" stop-color="#941d37"/><stop offset="0.371" stop-color="#ab2b47"/><stop offset="0.405" stop-color="#be3857"/><stop offset="0.452" stop-color="#ce4c6c"/><stop offset="0.505" stop-color="#b52c47"/><stop offset="0.514" stop-color="#b02741"/><stop offset="0.552" stop-color="#ae253e"/><stop offset="0.581" stop-color="#ae243e"/><stop offset="0.600" stop-color="#ad233d"/><stop offset="0.633" stop-color="#a7203a"/><stop offset="0.643" stop-color="#a62039"/><stop offset="0.676" stop-color="#881328"/><stop offset="0.919" stop-color="#760e22"/><stop offset="0.952" stop-color="#0e0205"/></linearGradient><linearGradient id="r53" x1="-10" x2="200" y1="0" y2="0" gradientUnits="userSpaceOnUse"><stop offset="0.048" stop-color="#030102"/><stop offset="0.095" stop-color="#0c0204"/><stop offset="0.133" stop-color="#25070e"/><stop offset="0.152" stop-color="#340914"/><stop offset="0.190" stop-color="#4a0d1c"/><stop offset="0.238" stop-color="#641225"/><stop offset="0.276" stop-color="#75162b"/><stop offset="0.333" stop-color="#901c35"/><stop offset="0.371" stop-color="#a62844"/><stop offset="0.405" stop-color="#ba3554"/><stop offset="0.452" stop-color="#cc4a69"/><stop offset="0.505" stop-color="#b12a45"/><stop offset="0.514" stop-color="#ac253f"/><stop offset="0.552" stop-color="#a7223b"/><stop offset="0.581" stop-color="#a9223b"/><stop offset="0.600" stop-color="#a9223b"/><stop offset="0.633" stop-color="#a11e37"/><stop offset="0.643" stop-color="#a01d36"/><stop offset="0.676" stop-color="#861328"/><stop offset="0.919" stop-color="#760e22"/><stop offset="0.952" stop-color="#0e0205"/></linearGradient><linearGradient id="r54" x1="-10" x2="200" y1="0" y2="0" gradientUnits="userSpaceOnUse"><stop offset="0.048" stop-color="#030102"/><stop offset="0.095" stop-color="#0b0204"/><stop offset="0.133" stop-color="#20060c"/><stop offset="0.152" stop-color="#2e0812"/><stop offset="0.190" stop-color="#450c1a"/><stop offset="0.238" stop-color="#5e1123"/><stop offset="0.276" stop-color="#70152a"/><stop offset="0.333" stop-color="#8b1b33"/><stop offset="0.371" stop-color="#a12641"/><stop offset="0.405" stop-color="#b53351"/><stop offset="0.452" stop-color="#ca4766"/><stop offset="0.505" stop-color="#ac2843"/><stop offset="0.514" stop-color="#a8233d"/><stop offset="0.552" stop-color="#a01f38"/><stop offset="0.581" stop-color="#a42039"/><stop offset="0.600" stop-color="#a52039"/><stop offset="0.633" stop-color="#9a1b33"/><stop offset="0.643" stop-color="#991b33"/><stop offset="0.676" stop-color="#841227"/><stop offset="0.919" stop-color="#770e22"/><stop offset="0.952" stop-color="#0e0205"/></linearGradient><linearGradient id="r55" x1="-10" x2="200" y1="0" y2="0" gradientUnits="userSpaceOnUse"><stop offset="0.048" stop-color="#030102"/><stop offset="0.095" stop-color="#0a0204"/><stop offset="0.133" stop-color="#1b050a"/><stop offset="0.152" stop-color="#290710"/><stop offset="0.190" stop-color="#400b18"/><stop offset="0.238" stop-color="#581021"/><stop offset="0.276" stop-color="#6a1328"/><stop offset="0.333" stop-color="#871a32"/><stop offset="0.371" stop-color="#9c233e"/><stop offset="0.405" stop-color="#b1304e"/><stop offset="0.452" stop-color="#c74463"/><stop offset="0.505" stop-color="#a82640"/><stop offset="0.514" stop-color="#a4223c"/><stop offset="0.552" stop-color="#991c34"/><stop offset="0.581" stop-color="#9f1e37"/><stop offset="0.600" stop-color="#a21f38"/><stop offset="0.633" stop-color="#941830"/><stop offset="0.643" stop-color="#931830"/><stop offset="0.676" stop-color="#831227"/><stop offset="0.919" stop-color="#770e22"/><stop offset="0.952" stop-color="#0e0205"/></linearGradient><linearGradient id="r56" x1="-10" x2="200" y1="0" y2="0" gradientUnits="userSpaceOnUse"><stop offset="0.048" stop-color="#030102"/><stop offset="0.095" stop-color="#090203"/><stop offset="0.133" stop-color="#150408"/><stop offset="0.152" stop-color="#23060d"/><stop offset="0.190" stop-color="#3a0a17"/><stop offset="0.238" stop-color="#530f1f"/><stop offset="0.276" stop-color="#651226"/><stop offset="0.333" stop-color="#821830"/><stop offset="0.371" stop-color="#97203b"/><stop offset="0.405" stop-color="#ac2d4b"/><stop offset="0.452" stop-color="#c54161"/><stop offset="0.505" stop-color="#a4243e"/><stop offset="0.514" stop-color="#a0203a"/><stop offset="0.552" stop-color="#931a31"/><stop offset="0.581" stop-color="#9a1c34"/><stop offset="0.600" stop-color="#9e1d36"/><stop offset="0.633" stop-color="#8d162d"/><stop offset="0.643" stop-color="#8c162d"/><stop offset="0.676" stop-color="#811126"/><stop offset="0.919" stop-color="#770e22"/><stop offset="0.952" stop-color="#0e0205"/></linearGradient><linearGradient id="r57" x1="-10" x2="200" y1="0" y2="0" gradientUnits="userSpaceOnUse"><stop offset="0.048" stop-color="#030102"/><stop offset="0.095" stop-color="#080103"/><stop offset="0.133" stop-color="#100306"/><stop offset="0.152" stop-color="#1d050b"/><stop offset="0.190" stop-color="#350915"/><stop offset="0.238" stop-color="#4d0e1d"/><stop offset="0.276" stop-color="#601124"/><stop offset="0.333" stop-color="#7e172f"/><stop offset="0.371" stop-color="#931d38"/><stop offset="0.405" stop-color="#a82b48"/><stop offset="0.452" stop-color="#c33e5e"/><stop offset="0.505" stop-color="#a0223c"/><stop offset="0.514" stop-color="#9b1f38"/><stop offset="0.552" stop-color="#8c172e"/><stop offset="0.581" stop-color="#951a32"/><stop offset="0.600" stop-color="#9b1c34"/><stop offset="0.633" stop-color="#87132a"/><stop offset="0.643" stop-color="#861329"/><stop offset="0.676" stop-color="#801126"/><stop offset="0.919" stop-color="#780f22"/><stop offset="0.952" stop-color="#0e0205"/></linearGradient><linearGradient id="r58" x1="-10" x2="200" y1="0" y2="0" gradientUnits="userSpaceOnUse"><stop offset="0.048" stop-color="#030102"/><stop offset="0.095" stop-color="#070103"/><stop offset="0.133" stop-color="#0a0204"/><stop offset="0.152" stop-color="#170409"/><stop offset="0.190" stop-color="#300813"/><stop offset="0.238" stop-color="#470c1b"/><stop offset="0.276" stop-color="#5a1022"/><stop offset="0.333" stop-color="#79162d"/><stop offset="0.371" stop-color="#8e1b35"/><stop offset="0.405" stop-color="#a32844"/><stop offset="0.452" stop-color="#c13c5b"/><stop offset="0.505" stop-color="#9c2039"/><stop offset="0.514" stop-color="#971d36"/><stop offset="0.552" stop-color="#85142b"/><stop offset="0.581" stop-color="#90182f"/><stop offset="0.600" stop-color="#971a33"/><stop offset="0.633" stop-color="#801126"/><stop offset="0.643" stop-color="#801126"/><stop offset="0.676" stop-color="#7e1025"/><stop offset="0.919" stop-color="#780f22"/><stop offset="0.952" stop-color="#0e0205"/></linearGradient><linearGradient id="r59" x1="-10" x2="200" y1="0" y2="0" gradientUnits="userSpaceOnUse"><stop offset="0.048" stop-color="#030102"/><stop offset="0.133" stop-color="#090203"/><stop offset="0.190" stop-color="#2a0711"/><stop offset="0.262" stop-color="#4d0d1d"/><stop offset="0.276" stop-color="#540f20"/><stop offset="0.343" stop-color="#78162c"/><stop offset="0.371" stop-color="#881932"/><stop offset="0.429" stop-color="#ad2e4c"/><stop offset="0.452" stop-color="#b93655"/><stop offset="0.500" stop-color="#992039"/><stop offset="0.505" stop-color="#961d37"/><stop offset="0.552" stop-color="#821329"/><stop offset="0.595" stop-color="#911830"/><stop offset="0.600" stop-color="#931931"/><stop offset="0.633" stop-color="#7e1025"/><stop offset="0.919" stop-color="#790f22"/><stop offset="0.952" stop-color="#0e0205"/></linearGradient><linearGradient id="r60" x1="-10" x2="200" y1="0" y2="0" gradientUnits="userSpaceOnUse"><stop offset="0.048" stop-color="#030102"/><stop offset="0.133" stop-color="#080203"/><stop offset="0.190" stop-color="#24060e"/><stop offset="0.262" stop-color="#460c1a"/><stop offset="0.276" stop-color="#4d0d1d"/><stop offset="0.343" stop-color="#72152a"/><stop offset="0.371" stop-color="#831830"/><stop offset="0.429" stop-color="#a72b47"/><stop offset="0.452" stop-color="#b0314f"/><stop offset="0.500" stop-color="#931d36"/><stop offset="0.505" stop-color="#911b34"/><stop offset="0.552" stop-color="#801329"/><stop offset="0.595" stop-color="#8d172e"/><stop offset="0.600" stop-color="#8f172e"/><stop offset="0.633" stop-color="#7e1025"/><stop offset="0.919" stop-color="#790f22"/><stop offset="0.952" stop-color="#0e0205"/></linearGradient><linearGradient id="r61" x1="-10" x2="200" y1="0" y2="0" gradientUnits="userSpaceOnUse"><stop offset="0.048" stop-color="#030102"/><stop offset="0.133" stop-color="#080203"/><stop offset="0.190" stop-color="#1e050c"/><stop offset="0.262" stop-color="#3f0b18"/><stop offset="0.276" stop-color="#470c1b"/><stop offset="0.343" stop-color="#6c1328"/><stop offset="0.371" stop-color="#7d172e"/><stop offset="0.429" stop-color="#a22743"/><stop offset="0.452" stop-color="#a72b48"/><stop offset="0.500" stop-color="#8d1b33"/><stop offset="0.505" stop-color="#8b1931"/><stop offset="0.552" stop-color="#7f1228"/><stop offset="0.595" stop-color="#89152b"/><stop offset="0.600" stop-color="#8a162c"/><stop offset="0.633" stop-color="#7d1025"/><stop offset="0.919" stop-color="#790f22"/><stop offset="0.952" stop-color="#0e0205"/></linearGradient><linearGradient id="r62" x1="-10" x2="200" y1="0" y2="0" gradientUnits="userSpaceOnUse"><stop offset="0.048" stop-color="#030102"/><stop offset="0.133" stop-color="#070103"/><stop offset="0.190" stop-color="#18040a"/><stop offset="0.262" stop-color="#390a15"/><stop offset="0.276" stop-color="#400b18"/><stop offset="0.343" stop-color="#661225"/><stop offset="0.371" stop-color="#77152b"/><stop offset="0.429" stop-color="#9d233f"/><stop offset="0.452" stop-color="#9e2641"/><stop offset="0.500" stop-color="#871830"/><stop offset="0.505" stop-color="#86172e"/><stop offset="0.552" stop-color="#7d1227"/><stop offset="0.595" stop-color="#851429"/><stop offset="0.600" stop-color="#86142a"/><stop offset="0.633" stop-color="#7c1024"/><stop offset="0.919" stop-color="#790f22"/><stop offset="0.952" stop-color="#0e0205"/></linearGradient><linearGradient id="r63" x1="-10" x2="200" y1="0" y2="0" gradientUnits="userSpaceOnUse"><stop offset="0.048" stop-color="#030102"/><stop offset="0.133" stop-color="#070103"/><stop offset="0.190" stop-color="#120308"/><stop offset="0.262" stop-color="#320913"/><stop offset="0.276" stop-color="#3a0a16"/><stop offset="0.343" stop-color="#601023"/><stop offset="0.371" stop-color="#721429"/><stop offset="0.429" stop-color="#971f3a"/><stop offset="0.452" stop-color="#96203b"/><stop offset="0.500" stop-color="#81162d"/><stop offset="0.505" stop-color="#80152c"/><stop offset="0.552" stop-color="#7b1126"/><stop offset="0.595" stop-color="#811227"/><stop offset="0.600" stop-color="#821327"/><stop offset="0.633" stop-color="#7b1024"/><stop offset="0.919" stop-color="#7a0f22"/><stop offset="0.952" stop-color="#0e0205"/></linearGradient><linearGradient id="r64" x1="-10" x2="200" y1="0" y2="0" gradientUnits="userSpaceOnUse"><stop offset="0.048" stop-color="#030102"/><stop offset="0.133" stop-color="#060103"/><stop offset="0.190" stop-color="#0c0205"/><stop offset="0.262" stop-color="#2b0810"/><stop offset="0.276" stop-color="#330913"/><stop offset="0.343" stop-color="#5a0f20"/><stop offset="0.371" stop-color="#6c1327"/><stop offset="0.429" stop-color="#921c36"/><stop offset="0.452" stop-color="#8d1b34"/><stop offset="0.500" stop-color="#7b1329"/><stop offset="0.505" stop-color="#7a1329"/><stop offset="0.552" stop-color="#7a1125"/><stop offset="0.595" stop-color="#7d1125"/><stop offset="0.600" stop-color="#7e1125"/><stop offset="0.633" stop-color="#7b1023"/><stop offset="0.919" stop-color="#7a0f22"/><stop offset="0.952" stop-color="#0e0205"/></linearGradient><linearGradient id="r65" x1="-10" x2="200" y1="0" y2="0" gradientUnits="userSpaceOnUse"><stop offset="0.048" stop-color="#030102"/><stop offset="0.190" stop-color="#070203"/><stop offset="0.262" stop-color="#25060e"/><stop offset="0.333" stop-color="#4e0d1c"/><stop offset="0.343" stop-color="#530e1e"/><stop offset="0.419" stop-color="#861730"/><stop offset="0.429" stop-color="#8c1832"/><stop offset="0.500" stop-color="#751126"/><stop offset="0.571" stop-color="#791024"/><stop offset="0.595" stop-color="#7a1023"/><stop offset="0.667" stop-color="#7a0f23"/><stop offset="0.919" stop-color="#7a0f22"/><stop offset="0.952" stop-color="#0e0205"/></linearGradient><linearGradient id="r66" x1="-10" x2="200" y1="0" y2="0" gradientUnits="userSpaceOnUse"><stop offset="0.048" stop-color="#030102"/><stop offset="0.190" stop-color="#070203"/><stop offset="0.262" stop-color="#20060c"/><stop offset="0.333" stop-color="#470c19"/><stop offset="0.343" stop-color="#4d0d1b"/><stop offset="0.419" stop-color="#7f152d"/><stop offset="0.429" stop-color="#84162f"/><stop offset="0.500" stop-color="#711025"/><stop offset="0.571" stop-color="#770f23"/><stop offset="0.595" stop-color="#780f23"/><stop offset="0.667" stop-color="#7a0f23"/><stop offset="0.919" stop-color="#790f21"/><stop offset="0.952" stop-color="#0e0205"/></linearGradient><linearGradient id="r67" x1="-10" x2="200" y1="0" y2="0" gradientUnits="userSpaceOnUse"><stop offset="0.048" stop-color="#030102"/><stop offset="0.190" stop-color="#070203"/><stop offset="0.262" stop-color="#1c050b"/><stop offset="0.333" stop-color="#400a17"/><stop offset="0.343" stop-color="#460b19"/><stop offset="0.419" stop-color="#78142a"/><stop offset="0.429" stop-color="#7c152c"/><stop offset="0.500" stop-color="#6e0f23"/><stop offset="0.571" stop-color="#750f22"/><stop offset="0.595" stop-color="#770f22"/><stop offset="0.667" stop-color="#7a0f22"/><stop offset="0.919" stop-color="#790e21"/><stop offset="0.952" stop-color="#0e0205"/></linearGradient><linearGradient id="r68" x1="-10" x2="200" y1="0" y2="0" gradientUnits="userSpaceOnUse"><stop offset="0.048" stop-color="#030102"/><stop offset="0.190" stop-color="#070203"/><stop offset="0.262" stop-color="#170409"/><stop offset="0.333" stop-color="#390914"/><stop offset="0.343" stop-color="#3f0a16"/><stop offset="0.419" stop-color="#711228"/><stop offset="0.429" stop-color="#751329"/><stop offset="0.500" stop-color="#6a0e22"/><stop offset="0.571" stop-color="#730f22"/><stop offset="0.595" stop-color="#750f22"/><stop offset="0.667" stop-color="#7a0f22"/><stop offset="0.919" stop-color="#780e21"/><stop offset="0.952" stop-color="#0e0205"/></linearGradient><linearGradient id="r69" x1="-10" x2="200" y1="0" y2="0" gradientUnits="userSpaceOnUse"><stop offset="0.048" stop-color="#030102"/><stop offset="0.190" stop-color="#070103"/><stop offset="0.262" stop-color="#130307"/><stop offset="0.333" stop-color="#320812"/><stop offset="0.343" stop-color="#380914"/><stop offset="0.419" stop-color="#6a1025"/><stop offset="0.429" stop-color="#6d1126"/><stop offset="0.500" stop-color="#670e20"/><stop offset="0.571" stop-color="#710e21"/><stop offset="0.595" stop-color="#740e21"/><stop offset="0.667" stop-color="#7a0f22"/><stop offset="0.919" stop-color="#770e21"/><stop offset="0.952" stop-color="#0e0205"/></linearGradient><linearGradient id="r70" x1="-10" x2="200" y1="0" y2="0" gradientUnits="userSpaceOnUse"><stop offset="0.048" stop-color="#030102"/><stop offset="0.190" stop-color="#060103"/><stop offset="0.262" stop-color="#0e0306"/><stop offset="0.333" stop-color="#2b070f"/><stop offset="0.343" stop-color="#310812"/><stop offset="0.419" stop-color="#640f22"/><stop offset="0.429" stop-color="#650f23"/><stop offset="0.500" stop-color="#630d1f"/><stop offset="0.571" stop-color="#6f0e20"/><stop offset="0.595" stop-color="#720e21"/><stop offset="0.667" stop-color="#7a0f22"/><stop offset="0.919" stop-color="#770e20"/><stop offset="0.952" stop-color="#0d0205"/></linearGradient><linearGradient id="r71" x1="-10" x2="200" y1="0" y2="0" gradientUnits="userSpaceOnUse"><stop offset="0.048" stop-color="#030102"/><stop offset="0.190" stop-color="#060103"/><stop offset="0.262" stop-color="#0a0204"/><stop offset="0.333" stop-color="#24060d"/><stop offset="0.343" stop-color="#2b060f"/><stop offset="0.419" stop-color="#5d0d20"/><stop offset="0.429" stop-color="#5e0d20"/><stop offset="0.500" stop-color="#600c1d"/><stop offset="0.571" stop-color="#6d0d1f"/><stop offset="0.595" stop-color="#700e20"/><stop offset="0.667" stop-color="#7a0f22"/><stop offset="0.919" stop-color="#760e20"/><stop offset="0.952" stop-color="#0d0205"/></linearGradient><linearGradient id="r72" x1="-10" x2="200" y1="0" y2="0" gradientUnits="userSpaceOnUse"><stop offset="0.048" stop-color="#030102"/><stop offset="0.262" stop-color="#070203"/><stop offset="0.333" stop-color="#1e050b"/><stop offset="0.419" stop-color="#530c1c"/><stop offset="0.429" stop-color="#540b1c"/><stop offset="0.500" stop-color="#5b0b1b"/><stop offset="0.524" stop-color="#600c1c"/><stop offset="0.571" stop-color="#680d1e"/><stop offset="0.667" stop-color="#750e20"/><stop offset="0.919" stop-color="#710d1f"/><stop offset="0.952" stop-color="#0d0205"/></linearGradient><linearGradient id="r73" x1="-10" x2="200" y1="0" y2="0" gradientUnits="userSpaceOnUse"><stop offset="0.048" stop-color="#030102"/><stop offset="0.262" stop-color="#070203"/><stop offset="0.333" stop-color="#170409"/><stop offset="0.419" stop-color="#460a18"/><stop offset="0.429" stop-color="#480a18"/><stop offset="0.500" stop-color="#540a19"/><stop offset="0.524" stop-color="#5a0b1b"/><stop offset="0.571" stop-color="#600c1c"/><stop offset="0.667" stop-color="#690d1d"/><stop offset="0.919" stop-color="#670c1c"/><stop offset="0.952" stop-color="#0c0204"/></linearGradient><linearGradient id="r74" x1="-10" x2="200" y1="0" y2="0" gradientUnits="userSpaceOnUse"><stop offset="0.048" stop-color="#030102"/><stop offset="0.262" stop-color="#070203"/><stop offset="0.333" stop-color="#110307"/><stop offset="0.419" stop-color="#3a0814"/><stop offset="0.429" stop-color="#3c0914"/><stop offset="0.500" stop-color="#4d0a17"/><stop offset="0.524" stop-color="#540a19"/><stop offset="0.571" stop-color="#580b19"/><stop offset="0.667" stop-color="#5e0b1a"/><stop offset="0.919" stop-color="#5e0b1a"/><stop offset="0.952" stop-color="#0b0204"/></linearGradient><linearGradient id="r75" x1="-10" x2="200" y1="0" y2="0" gradientUnits="userSpaceOnUse"><stop offset="0.048" stop-color="#030102"/><stop offset="0.262" stop-color="#060103"/><stop offset="0.333" stop-color="#0b0204"/><stop offset="0.419" stop-color="#2d070f"/><stop offset="0.429" stop-color="#300710"/><stop offset="0.500" stop-color="#460915"/><stop offset="0.524" stop-color="#4e0917"/><stop offset="0.571" stop-color="#500a17"/><stop offset="0.667" stop-color="#530a18"/><stop offset="0.919" stop-color="#550a18"/><stop offset="0.952" stop-color="#0a0204"/></linearGradient><linearGradient id="r76" x1="-10" x2="200" y1="0" y2="0" gradientUnits="userSpaceOnUse"><stop offset="0.048" stop-color="#030102"/><stop offset="0.333" stop-color="#070203"/><stop offset="0.429" stop-color="#23060c"/><stop offset="0.524" stop-color="#3e0812"/><stop offset="0.919" stop-color="#430813"/><stop offset="0.952" stop-color="#090203"/></linearGradient><linearGradient id="r77" x1="-10" x2="200" y1="0" y2="0" gradientUnits="userSpaceOnUse"><stop offset="0.048" stop-color="#030102"/><stop offset="0.333" stop-color="#060103"/><stop offset="0.429" stop-color="#160408"/><stop offset="0.524" stop-color="#24050b"/><stop offset="0.919" stop-color="#28050c"/><stop offset="0.952" stop-color="#090203"/></linearGradient><linearGradient id="r78" x1="-10" x2="200" y1="0" y2="0" gradientUnits="userSpaceOnUse"><stop offset="0.048" stop-color="#030102"/><stop offset="0.333" stop-color="#050102"/><stop offset="0.429" stop-color="#080203"/><stop offset="0.524" stop-color="#0b0204"/><stop offset="0.919" stop-color="#0e0205"/><stop offset="0.952" stop-color="#090203"/></linearGradient><linearGradient id="r79" x1="-10" x2="200" y1="0" y2="0" gradientUnits="userSpaceOnUse"><stop offset="0.048" stop-color="#030102"/><stop offset="0.952" stop-color="#080103"/></linearGradient><linearGradient id="r80" x1="-10" x2="200" y1="0" y2="0" gradientUnits="userSpaceOnUse"><stop offset="0.048" stop-color="#030102"/><stop offset="0.952" stop-color="#070103"/></linearGradient><linearGradient id="r81" x1="-10" x2="200" y1="0" y2="0" gradientUnits="userSpaceOnUse"><stop offset="0.048" stop-color="#030102"/><stop offset="0.952" stop-color="#050103"/></linearGradient><linearGradient id="r82" x1="-10" x2="200" y1="0" y2="0" gradientUnits="userSpaceOnUse"><stop offset="0.048" stop-color="#030102"/><stop offset="0.952" stop-color="#050103"/></linearGradient></defs>
<g filter="url(#pb)"><rect x="-10" y="4" width="210" height="3.5" fill="url(#r0)"/><rect x="-10" y="7" width="210" height="3.5" fill="url(#r1)"/><rect x="-10" y="10" width="210" height="3.5" fill="url(#r2)"/><rect x="-10" y="13" width="210" height="3.5" fill="url(#r3)"/><rect x="-10" y="16" width="210" height="3.5" fill="url(#r4)"/><rect x="-10" y="19" width="210" height="3.5" fill="url(#r5)"/><rect x="-10" y="22" width="210" height="3.5" fill="url(#r6)"/><rect x="-10" y="25" width="210" height="3.5" fill="url(#r7)"/><rect x="-10" y="28" width="210" height="3.5" fill="url(#r8)"/><rect x="-10" y="31" width="210" height="3.5" fill="url(#r9)"/><rect x="-10" y="34" width="210" height="3.5" fill="url(#r10)"/><rect x="-10" y="37" width="210" height="3.5" fill="url(#r11)"/><rect x="-10" y="40" width="210" height="3.5" fill="url(#r12)"/><rect x="-10" y="43" width="210" height="3.5" fill="url(#r13)"/><rect x="-10" y="46" width="210" height="3.5" fill="url(#r14)"/><rect x="-10" y="49" width="210" height="3.5" fill="url(#r15)"/><rect x="-10" y="52" width="210" height="3.5" fill="url(#r16)"/><rect x="-10" y="55" width="210" height="3.5" fill="url(#r17)"/><rect x="-10" y="58" width="210" height="3.5" fill="url(#r18)"/><rect x="-10" y="61" width="210" height="3.5" fill="url(#r19)"/><rect x="-10" y="64" width="210" height="3.5" fill="url(#r20)"/><rect x="-10" y="67" width="210" height="3.5" fill="url(#r21)"/><rect x="-10" y="70" width="210" height="3.5" fill="url(#r22)"/><rect x="-10" y="73" width="210" height="3.5" fill="url(#r23)"/><rect x="-10" y="76" width="210" height="3.5" fill="url(#r24)"/><rect x="-10" y="79" width="210" height="3.5" fill="url(#r25)"/><rect x="-10" y="82" width="210" height="3.5" fill="url(#r26)"/><rect x="-10" y="85" width="210" height="3.5" fill="url(#r27)"/><rect x="-10" y="88" width="210" height="3.5" fill="url(#r28)"/><rect x="-10" y="91" width="210" height="3.5" fill="url(#r29)"/><rect x="-10" y="94" width="210" height="3.5" fill="url(#r30)"/><rect x="-10" y="97" width="210" height="3.5" fill="url(#r31)"/><rect x="-10" y="100" width="210" height="3.5" fill="url(#r32)"/><rect x="-10" y="103" width="210" height="3.5" fill="url(#r33)"/><rect x="-10" y="106" width="210" height="3.5" fill="url(#r34)"/><rect x="-10" y="109" width="210" height="3.5" fill="url(#r35)"/><rect x="-10" y="112" width="210" height="3.5" fill="url(#r36)"/><rect x="-10" y="115" width="210" height="3.5" fill="url(#r37)"/><rect x="-10" y="118" width="210" height="3.5" fill="url(#r38)"/><rect x="-10" y="121" width="210" height="3.5" fill="url(#r39)"/><rect x="-10" y="124" width="210" height="3.5" fill="url(#r40)"/><rect x="-10" y="127" width="210" height="3.5" fill="url(#r41)"/><rect x="-10" y="130" width="210" height="3.5" fill="url(#r42)"/><rect x="-10" y="133" width="210" height="3.5" fill="url(#r43)"/><rect x="-10" y="136" width="210" height="3.5" fill="url(#r44)"/><rect x="-10" y="139" width="210" height="3.5" fill="url(#r45)"/><rect x="-10" y="142" width="210" height="3.5" fill="url(#r46)"/><rect x="-10" y="145" width="210" height="3.5" fill="url(#r47)"/><rect x="-10" y="148" width="210" height="3.5" fill="url(#r48)"/><rect x="-10" y="151" width="210" height="3.5" fill="url(#r49)"/><rect x="-10" y="154" width="210" height="3.5" fill="url(#r50)"/><rect x="-10" y="157" width="210" height="3.5" fill="url(#r51)"/><rect x="-10" y="160" width="210" height="3.5" fill="url(#r52)"/><rect x="-10" y="163" width="210" height="3.5" fill="url(#r53)"/><rect x="-10" y="166" width="210" height="3.5" fill="url(#r54)"/><rect x="-10" y="169" width="210" height="3.5" fill="url(#r55)"/><rect x="-10" y="172" width="210" height="3.5" fill="url(#r56)"/><rect x="-10" y="175" width="210" height="3.5" fill="url(#r57)"/><rect x="-10" y="178" width="210" height="3.5" fill="url(#r58)"/><rect x="-10" y="181" width="210" height="3.5" fill="url(#r59)"/><rect x="-10" y="184" width="210" height="3.5" fill="url(#r60)"/><rect x="-10" y="187" width="210" height="3.5" fill="url(#r61)"/><rect x="-10" y="190" width="210" height="3.5" fill="url(#r62)"/><rect x="-10" y="193" width="210" height="3.5" fill="url(#r63)"/><rect x="-10" y="196" width="210" height="3.5" fill="url(#r64)"/><rect x="-10" y="199" width="210" height="3.5" fill="url(#r65)"/><rect x="-10" y="202" width="210" height="3.5" fill="url(#r66)"/><rect x="-10" y="205" width="210" height="3.5" fill="url(#r67)"/><rect x="-10" y="208" width="210" height="3.5" fill="url(#r68)"/><rect x="-10" y="211" width="210" height="3.5" fill="url(#r69)"/><rect x="-10" y="214" width="210" height="3.5" fill="url(#r70)"/><rect x="-10" y="217" width="210" height="3.5" fill="url(#r71)"/><rect x="-10" y="220" width="210" height="3.5" fill="url(#r72)"/><rect x="-10" y="223" width="210" height="3.5" fill="url(#r73)"/><rect x="-10" y="226" width="210" height="3.5" fill="url(#r74)"/><rect x="-10" y="229" width="210" height="3.5" fill="url(#r75)"/><rect x="-10" y="232" width="210" height="3.5" fill="url(#r76)"/><rect x="-10" y="235" width="210" height="3.5" fill="url(#r77)"/><rect x="-10" y="238" width="210" height="3.5" fill="url(#r78)"/><rect x="-10" y="241" width="210" height="3.5" fill="url(#r79)"/><rect x="-10" y="244" width="210" height="3.5" fill="url(#r80)"/><rect x="-10" y="247" width="210" height="3.5" fill="url(#r81)"/><rect x="-10" y="250" width="210" height="3.5" fill="url(#r82)"/></g>
<path d="M72,140 C80,195 105,222 185,226" stroke="#b02c50" stroke-opacity="0.55" stroke-width="14" fill="none" filter="url(#b4u)"/>
<ellipse cx="122" cy="182" rx="22" ry="22" fill="#5c0a20" fill-opacity="0.45" filter="url(#b4u)"/>
<path d="M40,126.3 L180,126.3" stroke="#000" stroke-opacity="0.06" stroke-width="1"/>
<defs><linearGradient id="stc" x1="0" y1="30" x2="0" y2="200" gradientUnits="userSpaceOnUse"><stop offset="0" stop-color="#f2a6be" stop-opacity="0"/><stop offset="0.15" stop-color="#f2a6be" stop-opacity="0.4"/><stop offset="0.5" stop-color="#f4b0c6" stop-opacity="0.55"/><stop offset="0.75" stop-color="#f2a6be" stop-opacity="0.35"/><stop offset="1" stop-color="#f2a6be" stop-opacity="0"/></linearGradient></defs>
<path d="M86,30 L79,200" stroke="url(#stc)" stroke-width="4" filter="url(#b2s)"/>
</g>
<text x="4.9" y="29.9" font-size="17" fill="#fff">H<tspan font-size="11" dy="4.0">2</tspan><tspan dy="-4.0">-ICRF, 8-9% D</tspan></text>
<text transform="translate(5.3,54.4) scale(1.065,1)" font-size="17.5" fill="#fff">25MHz</text>
<text transform="translate(4.6,78.5) scale(1.0,1)" font-size="17.5" fill="#fff">3.3T</text>
<text x="6.3" y="236.1" font-size="16" fill="#fff">ω=ω<tspan font-size="12" dy="4.3" dx="1.3">Di</tspan></text>
<text transform="translate(150.8,126) rotate(-90) scale(0.9,1)" font-size="12" font-weight="bold" fill="#fff">HFS</text>
<path d="M32.5,219.6 L80.6,137.5" stroke="#fff" stroke-width="2.3" fill="none"/>
<path d="M72.4,141.8 L81.2,135.8 L81.1,145.7" stroke="#fff" stroke-width="2.5" fill="none" stroke-linejoin="miter"/>
<rect x="222.5" y="11.5" width="194.6" height="231.7" fill="#fff" stroke="#d4d4d4" stroke-width="1"/>
<defs><clipPath id="cc"><path d="M251,12.5 L382.6,12.5 L382.6,242.8 L237,242.8 L238.5,215 L244.3,192 L244.3,40 L243.5,29.5 Z"/></clipPath></defs>
<g clip-path="url(#cc)">
<path d="M242.3,244.0 L238.8,229.0 L236.3,216.0 L234.3,202.5 L233.3,192.0 L233.0,185.5 L233.0,110.5 L233.8,86.5 L236.2,59.5 L239.7,35.0 L244.2,11.5" fill="none" stroke="#585eba" stroke-width="1.45"/>
<path d="M249.3,244.0 L245.8,229.0 L243.3,216.0 L241.4,203.5 L240.3,192.5 L240.0,185.5 L240.0,113.0 L240.7,88.0 L242.6,62.5 L245.8,37.0 L250.2,11.5" fill="none" stroke="#585eba" stroke-width="1.45"/>
<path d="M255.3,244.0 L252.2,229.5 L249.8,215.0 L248.2,203.5 L247.2,192.0 L247.0,185.5 L247.0,112.0 L247.7,86.5 L249.2,63.5 L252.2,36.5 L256.1,11.5" fill="none" stroke="#585fbb" stroke-width="1.45"/>
<path d="M271.5,244.0 L268.2,228.0 L265.6,212.5 L264.0,198.9 L263.2,185.5 L263.2,111.0 L263.7,85.5 L265.7,49.0 L267.2,31.5 L269.3,11.5" fill="none" stroke="#5a62bd" stroke-width="1.45"/>
<path d="M277.8,244.0 L274.8,228.0 L272.4,212.5 L270.9,198.0 L270.2,186.0 L270.2,113.0 L270.6,89.5 L272.2,50.5 L274.9,11.5" fill="none" stroke="#5a64be" stroke-width="1.45"/>
<path d="M284.1,244.0 L281.3,228.0 L279.2,212.5 L277.8,198.0 L277.2,186.0 L277.4,98.5 L278.6,56.0 L280.5,11.5" fill="none" stroke="#5b65bf" stroke-width="1.45"/>
<path d="M290.1,244.0 L287.8,227.5 L285.8,211.0 L284.8,198.5 L284.2,186.5 L284.3,104.0 L286.1,11.5" fill="none" stroke="#5b66c0" stroke-width="1.45"/>
<path d="M291.8,244.0 L291.3,191.0 L291.2,108.0 L289.6,11.5" fill="none" stroke="#5c67c2" stroke-width="1.45"/>
<path d="M292.7,244.0 L294.5,217.4 L296.2,185.5 L297.6,146.5 L298.2,115.0 L297.0,87.5 L292.3,11.5" fill="none" stroke="#5a71c8" stroke-width="1.25"/>
<path d="M293.2,244.0 L297.9,207.5 L301.6,173.0 L304.1,141.0 L305.2,115.5 L304.8,105.5 L303.3,88.5 L295.1,11.5" fill="none" stroke="#577dd0" stroke-width="1.25"/>
<path d="M293.7,244.0 L301.0,210.0 L307.5,173.0 L311.7,141.5 L312.9,127.5 L313.5,116.0 L313.0,106.0 L310.8,89.0 L298.6,11.5" fill="none" stroke="#558ad8" stroke-width="1.25"/>
<path d="M294.1,244.0 L302.4,216.5 L313.3,173.5 L316.6,157.5 L319.2,142.0 L320.9,128.0 L321.8,116.5 L321.7,112.0 L321.1,106.5 L318.4,90.0 L312.6,61.0 L302.1,11.5" fill="none" stroke="#529adc" stroke-width="1.25"/>
<path d="M294.5,244.0 L303.3,221.5 L319.2,173.5 L323.3,158.0 L326.8,141.5 L328.9,129.0 L330.1,116.5 L329.9,111.5 L329.3,106.5 L325.8,90.0 L318.3,61.0 L304.8,11.5" fill="none" stroke="#50aae1" stroke-width="1.25"/>
<path d="M294.9,244.0 L303.5,226.0 L316.2,193.0 L319.8,185.0 L324.3,176.0 L324.9,174.0 L330.0,158.0 L334.1,142.5 L336.9,128.5 L338.3,117.0 L338.3,112.5 L337.5,107.0 L333.4,90.5 L324.7,61.5 L308.6,11.5" fill="none" stroke="#53b4df" stroke-width="1.25"/>
<path d="M295.7,244.0 L301.0,234.8 L304.5,228.0 L320.5,192.1 L325.0,183.9 L330.0,176.0 L330.9,174.0 L336.9,158.0 L341.7,142.5 L345.0,128.5 L346.6,117.0 L346.6,112.5 L345.7,107.0 L343.9,100.0 L341.0,90.5 L330.9,61.5 L312.4,11.5" fill="none" stroke="#57bede" stroke-width="1.25"/>
<path d="M297.8,244.0 L302.0,237.5 L305.9,230.5 L317.5,205.5 L322.5,195.9 L327.5,187.7 L336.2,176.0 L337.3,174.0 L344.0,158.0 L349.4,142.5 L353.1,128.5 L354.9,117.0 L354.8,112.5 L353.8,107.0 L351.8,100.0 L348.5,90.5 L337.1,61.5 L316.2,11.5" fill="none" stroke="#5ac8dc" stroke-width="1.25"/>
<path d="M301.0,244.0 L304.5,237.9 L319.6,207.5 L325.0,197.9 L332.5,187.1 L337.5,181.2 L343.1,175.5 L344.3,173.5 L351.5,157.5 L357.3,142.0 L361.3,128.0 L362.5,122.0 L363.2,116.5 L363.1,112.0 L361.8,106.5 L359.6,99.5 L355.9,90.0 L340.4,55.0 L337.3,50.5 L334.2,44.5 L326.5,25.3 L320.1,11.5" fill="none" stroke="#5dc8d3" stroke-width="1.25"/>
<path d="M304.9,244.0 L308.5,236.5 L317.4,216.5 L322.5,207.0 L327.1,199.5 L330.5,194.7 L335.0,189.6 L351.0,174.5 L359.0,158.0 L365.1,142.5 L369.4,128.5 L370.8,122.0 L371.5,116.5 L371.3,112.0 L370.0,106.5 L367.5,99.5 L363.4,90.0 L347.1,56.5 L342.0,50.8 L337.6,43.5 L334.3,36.0 L327.5,18.9 L323.9,11.5" fill="none" stroke="#60c8ca" stroke-width="1.25"/>
<path d="M307.5,244.0 L320.2,216.0 L324.5,208.2 L329.0,201.4 L333.8,195.5 L339.0,190.2 L351.0,180.1 L357.3,175.5 L358.8,174.0 L366.7,158.0 L373.2,142.5 L377.6,128.5 L379.0,122.0 L379.8,116.5 L379.6,112.0 L378.1,106.5 L375.2,99.0 L370.4,89.0 L353.9,58.0 L349.6,55.0 L347.0,52.6 L343.7,48.5 L340.5,43.5 L335.8,33.5 L327.4,11.5" fill="none" stroke="#62c8c4" stroke-width="1.25"/>
<path d="M384.0,101.0 L375.5,84.5 L360.9,59.5 L354.0,55.2 L349.9,52.0 L346.0,47.9 L342.6,43.0 L340.1,38.5 L337.7,33.0 L330.0,11.5" fill="none" stroke="#64c8be" stroke-width="1.25"/>
<path d="M310.0,244.0 L311.6,239.5 L314.8,232.0 L321.4,218.0 L326.5,209.0 L332.0,201.3 L337.5,195.2 L344.0,189.5 L347.0,187.2 L361.3,178.0 L366.4,174.0 L371.9,163.5 L376.7,153.5 L380.7,144.0 L384.0,134.7" fill="none" stroke="#64c8be" stroke-width="1.25"/>
<path d="M384.0,86.4 L367.9,60.5 L367.3,60.0 L361.0,58.0 L355.0,54.4 L349.7,50.0 L345.1,44.5 L342.0,39.4 L339.0,33.0 L331.3,11.5" fill="none" stroke="#67c8b8" stroke-width="1.25"/>
<path d="M311.3,244.0 L314.3,235.5 L321.5,220.0 L326.9,210.5 L332.5,202.7 L338.5,196.2 L345.0,190.7 L366.0,177.6 L374.5,174.0 L384.0,155.5" fill="none" stroke="#67c8b8" stroke-width="1.25"/>
<path d="M384.0,74.8 L374.8,61.0 L364.5,58.1 L360.0,56.4 L353.3,52.0 L350.5,49.5 L347.8,46.5 L343.9,41.0 L340.4,34.0 L337.2,26.0 L332.2,11.5" fill="none" stroke="#69c8b4" stroke-width="1.25"/>
<path d="M312.3,244.0 L316.0,233.5 L320.1,224.5 L324.0,217.0 L330.5,206.8 L334.0,202.4 L337.5,198.7 L343.5,193.4 L364.0,181.0 L375.6,177.0 L381.9,174.5 L382.8,174.0 L384.0,171.9" fill="none" stroke="#69c8b4" stroke-width="1.25"/>
<path d="M384.0,74.5 L374.9,61.0 L364.5,58.0 L360.0,56.4 L353.4,52.0 L350.5,49.4 L347.8,46.5 L344.0,41.0 L340.4,34.0 L337.2,26.0 L332.2,11.5" fill="none" stroke="#69c8b4" stroke-width="1.25"/>
<path d="M312.3,244.0 L316.0,233.5 L320.2,224.5 L324.0,217.1 L330.5,206.9 L334.0,202.5 L337.5,198.7 L343.5,193.4 L364.0,181.0 L381.0,175.0 L383.0,174.0 L384.0,172.2" fill="none" stroke="#69c8b4" stroke-width="1.25"/>
<path d="M384.0,59.4 L376.5,58.1 L362.5,54.1 L357.5,51.8 L352.3,47.5 L349.6,44.5 L347.0,41.1 L342.5,33.0 L337.5,20.0 L335.5,11.5" fill="none" stroke="#6fc8a8" stroke-width="1.25"/>
<path d="M315.0,244.0 L320.1,230.0 L324.5,220.8 L331.0,210.5 L334.6,206.0 L338.0,202.4 L344.0,198.0 L359.0,189.4 L384.0,182.1" fill="none" stroke="#6fc8a8" stroke-width="1.25"/>
<path d="M384.0,56.0 L374.0,54.3 L363.5,51.1 L358.0,48.5 L353.0,44.7 L350.2,41.5 L347.8,38.0 L343.3,29.5 L340.7,22.0 L338.3,11.5" fill="none" stroke="#78c99a" stroke-width="1.25"/>
<path d="M317.5,244.0 L322.4,231.0 L327.6,220.5 L330.5,216.0 L333.5,212.0 L336.5,208.7 L340.0,205.5 L344.0,202.6 L354.0,197.0 L378.0,190.4 L384.0,189.5" fill="none" stroke="#78c99a" stroke-width="1.25"/>
<path d="M384.0,52.7 L371.5,50.4 L364.5,48.2 L359.0,45.5 L354.5,42.0 L350.0,36.7 L346.3,30.0 L343.2,21.5 L340.7,11.5" fill="none" stroke="#86cc88" stroke-width="1.25"/>
<path d="M320.1,244.0 L320.9,241.0 L324.0,233.3 L326.8,227.5 L329.5,222.6 L335.0,215.0 L338.0,211.8 L341.5,208.8 L344.5,206.8 L349.5,204.2 L373.5,197.6 L384.0,196.2" fill="none" stroke="#86cc88" stroke-width="1.25"/>
<path d="M384.0,49.4 L372.5,47.2 L365.5,45.3 L361.0,43.3 L356.5,39.9 L352.0,34.8 L348.4,28.5 L345.3,20.5 L342.9,11.5" fill="none" stroke="#94cf76" stroke-width="1.25"/>
<path d="M323.0,244.0 L325.3,236.0 L328.0,230.5 L331.0,225.2 L333.9,221.0 L336.8,217.5 L340.0,214.4 L343.0,212.1 L344.0,211.5 L347.0,210.5 L368.5,204.7 L384.0,202.5" fill="none" stroke="#94cf76" stroke-width="1.25"/>
<path d="M384.0,46.0 L375.5,44.5 L365.5,42.0 L361.5,40.1 L358.0,37.5 L353.9,33.0 L350.3,27.0 L347.2,19.5 L345.1,11.5" fill="none" stroke="#aad369" stroke-width="1.25"/>
<path d="M325.8,244.0 L328.7,235.5 L332.5,227.9 L337.0,222.0 L341.5,218.2 L345.0,216.6 L364.0,211.3 L384.0,208.6" fill="none" stroke="#aad369" stroke-width="1.25"/>
<path d="M384.0,42.6 L377.0,41.5 L366.0,38.6 L362.5,37.3 L359.5,35.2 L355.5,31.0 L352.0,25.4 L349.5,19.7 L347.3,11.5" fill="none" stroke="#c2d65d" stroke-width="1.25"/>
<path d="M328.7,244.0 L331.5,236.7 L335.0,230.5 L339.0,225.8 L343.0,222.9 L347.5,221.3 L359.5,217.9 L384.0,214.5" fill="none" stroke="#c2d65d" stroke-width="1.25"/>
<path d="M384.0,39.1 L376.0,37.9 L369.5,36.2 L364.0,34.4 L360.5,32.3 L357.0,28.7 L353.9,24.0 L351.3,18.0 L349.4,11.5" fill="none" stroke="#dad555" stroke-width="1.25"/>
<path d="M331.7,244.0 L334.0,238.7 L337.0,233.9 L340.5,230.1 L344.0,227.8 L353.5,224.8 L356.5,224.2 L375.0,221.3 L384.0,220.5" fill="none" stroke="#dad555" stroke-width="1.25"/>
<path d="M384.0,35.6 L372.0,33.4 L364.5,31.0 L361.5,29.2 L358.5,26.3 L355.6,22.0 L353.2,17.0 L351.5,11.5" fill="none" stroke="#f0d050" stroke-width="1.25"/>
<path d="M335.0,244.0 L337.0,240.2 L339.5,236.8 L342.0,234.5 L345.0,232.8 L350.0,231.3 L365.0,228.4 L374.0,227.0 L384.0,226.4" fill="none" stroke="#f0d050" stroke-width="1.25"/>
<path d="M384.0,32.1 L377.0,30.9 L370.5,29.3 L365.5,27.7 L363.0,26.4 L360.0,23.8 L357.6,20.5 L355.5,16.5 L353.6,11.5" fill="none" stroke="#f3b850" stroke-width="1.25"/>
<path d="M338.9,244.0 L341.0,241.2 L343.0,239.5 L345.0,238.6 L349.5,237.3 L359.0,235.1 L369.0,233.3 L384.0,232.1" fill="none" stroke="#f3b850" stroke-width="1.25"/>
<path d="M384.0,28.6 L372.5,26.1 L366.5,24.2 L363.5,22.9 L361.0,20.7 L359.0,18.0 L357.5,15.4 L356.0,11.5" fill="none" stroke="#f39c54" stroke-width="1.25"/>
<path d="M348.4,244.0 L356.0,241.6 L364.5,239.6 L374.0,238.4 L384.0,237.7" fill="none" stroke="#f39c54" stroke-width="1.25"/>
<path d="M384.0,25.1 L373.5,22.6 L364.5,19.1 L363.0,18.0 L361.1,16.0 L358.6,11.5" fill="none" stroke="#ee7a5e" stroke-width="1.25"/>
<path d="M374.6,244.0 L384.0,243.2" fill="none" stroke="#ee7a5e" stroke-width="1.25"/>
<path d="M384.0,21.6 L376.5,19.7 L369.4,17.0 L364.5,14.4 L361.9,11.5" fill="none" stroke="#eb6464" stroke-width="1.25"/>
<path d="M384.0,18.0 L375.0,15.1 L368.1,11.5" fill="none" stroke="#eb6464" stroke-width="1.25"/>
<path d="M384.0,14.3 L376.6,11.5" fill="none" stroke="#eb6464" stroke-width="1.25"/>
</g>
<line x1="222.5" y1="21.0" x2="226.3" y2="21.0" stroke="#555" stroke-width="0.8"/>
<text x="220.3" y="25.6" text-anchor="end" font-size="10.3" fill="#222" stroke="#222" stroke-width="0.2">2.0</text>
<line x1="222.5" y1="49.5" x2="226.3" y2="49.5" stroke="#555" stroke-width="0.8"/>
<text x="220.3" y="54.1" text-anchor="end" font-size="10.3" fill="#222" stroke="#222" stroke-width="0.2">1.5</text>
<line x1="222.5" y1="77.9" x2="226.3" y2="77.9" stroke="#555" stroke-width="0.8"/>
<text x="220.3" y="82.5" text-anchor="end" font-size="10.3" fill="#222" stroke="#222" stroke-width="0.2">1.0</text>
<line x1="222.5" y1="106.4" x2="226.3" y2="106.4" stroke="#555" stroke-width="0.8"/>
<text x="220.3" y="111.0" text-anchor="end" font-size="10.3" fill="#222" stroke="#222" stroke-width="0.2">0.5</text>
<line x1="222.5" y1="134.8" x2="226.3" y2="134.8" stroke="#555" stroke-width="0.8"/>
<text x="220.3" y="139.4" text-anchor="end" font-size="10.3" fill="#222" stroke="#222" stroke-width="0.2">0</text>
<line x1="222.5" y1="163.2" x2="226.3" y2="163.2" stroke="#555" stroke-width="0.8"/>
<text x="220.3" y="167.8" text-anchor="end" font-size="10.3" fill="#222" stroke="#222" stroke-width="0.2">−0.5</text>
<line x1="222.5" y1="191.7" x2="226.3" y2="191.7" stroke="#555" stroke-width="0.8"/>
<text x="220.3" y="196.3" text-anchor="end" font-size="10.3" fill="#222" stroke="#222" stroke-width="0.2">−1.0</text>
<line x1="222.5" y1="220.2" x2="226.3" y2="220.2" stroke="#555" stroke-width="0.8"/>
<text x="220.3" y="224.8" text-anchor="end" font-size="10.3" fill="#222" stroke="#222" stroke-width="0.2">−1.5</text>
<line x1="236.5" y1="239.4" x2="236.5" y2="243.2" stroke="#555" stroke-width="0.8"/>
<text x="236.5" y="252.4" text-anchor="middle" font-size="9.8" fill="#222" stroke="#222" stroke-width="0.2">1.5</text>
<line x1="265.2" y1="239.4" x2="265.2" y2="243.2" stroke="#555" stroke-width="0.8"/>
<text x="265.2" y="252.4" text-anchor="middle" font-size="9.8" fill="#222" stroke="#222" stroke-width="0.2">2.0</text>
<line x1="293.9" y1="239.4" x2="293.9" y2="243.2" stroke="#555" stroke-width="0.8"/>
<text x="293.9" y="252.4" text-anchor="middle" font-size="9.8" fill="#222" stroke="#222" stroke-width="0.2">2.5</text>
<line x1="322.6" y1="239.4" x2="322.6" y2="243.2" stroke="#555" stroke-width="0.8"/>
<text x="322.6" y="252.4" text-anchor="middle" font-size="9.8" fill="#222" stroke="#222" stroke-width="0.2">3.0</text>
<line x1="351.2" y1="239.4" x2="351.2" y2="243.2" stroke="#555" stroke-width="0.8"/>
<text x="351.2" y="252.4" text-anchor="middle" font-size="9.8" fill="#222" stroke="#222" stroke-width="0.2">3.5</text>
<line x1="379.9" y1="239.4" x2="379.9" y2="243.2" stroke="#555" stroke-width="0.8"/>
<text x="379.9" y="252.4" text-anchor="middle" font-size="9.8" fill="#222" stroke="#222" stroke-width="0.2">4.0</text>
<line x1="408.6" y1="239.4" x2="408.6" y2="243.2" stroke="#555" stroke-width="0.8"/>
<text x="408.6" y="252.4" text-anchor="middle" font-size="9.8" fill="#222" stroke="#222" stroke-width="0.2">4.5</text>
<text x="325.3" y="265.3" text-anchor="middle" font-size="10.1" fill="#222" stroke="#222" stroke-width="0.2">R (m)</text>
<g transform="translate(245.8,114) rotate(90)"><rect x="-8" y="-3" width="16" height="6" fill="#fff"/><text x="0" y="1.9" text-anchor="middle" font-size="5.2" fill="#6468c0">0.024</text></g>
<g transform="translate(263.3,40) rotate(90)"><rect x="-8" y="-3" width="16" height="6" fill="#fff"/><text x="0" y="1.9" text-anchor="middle" font-size="5.2" fill="#6468c0">0.036</text></g>
<g transform="translate(255.2,197) rotate(90)"><rect x="-8" y="-3" width="16" height="6" fill="#fff"/><text x="0" y="1.9" text-anchor="middle" font-size="5.2" fill="#6468c0">0.036</text></g>
<g transform="translate(290.5,37) rotate(90)"><rect x="-8" y="-3" width="16" height="6" fill="#fff"/><text x="0" y="1.9" text-anchor="middle" font-size="5.2" fill="#6468c0">0.048</text></g>
<g transform="translate(283.7,198.6) rotate(90)"><rect x="-8" y="-3" width="16" height="6" fill="#fff"/><text x="0" y="1.9" text-anchor="middle" font-size="5.2" fill="#6872c4">0.060</text></g>
<g transform="translate(307.2,108.5) rotate(90)"><rect x="-8" y="-3" width="16" height="6" fill="#fff"/><text x="0" y="1.9" text-anchor="middle" font-size="5.2" fill="#5c7ed0">0.072</text></g>
<g transform="translate(278.2,120) rotate(90)"><rect x="-8" y="-3" width="16" height="6" fill="#fff"/><text x="0" y="1.9" text-anchor="middle" font-size="5.2" fill="#6a78c8">0.096</text></g>
<g transform="translate(318.4,34.8) rotate(70)"><rect x="-8" y="-3" width="16" height="6" fill="#fff"/><text x="0" y="1.9" text-anchor="middle" font-size="5.2" fill="#5aaed8">0.108</text></g>
<g transform="translate(332.7,85.4) rotate(75)"><rect x="-8" y="-3" width="16" height="6" fill="#fff"/><text x="0" y="1.9" text-anchor="middle" font-size="5.2" fill="#58bcd8">0.150</text></g>
<g transform="translate(329.7,192.6) rotate(-60)"><rect x="-8" y="-3" width="16" height="6" fill="#fff"/><text x="0" y="1.9" text-anchor="middle" font-size="5.2" fill="#6cc0a8">0.114</text></g>
<g transform="translate(316,160) rotate(-70)"><rect x="-8" y="-3" width="16" height="6" fill="#fff"/><text x="0" y="1.9" text-anchor="middle" font-size="5.2" fill="#5aaad8">0.084</text></g>
<g transform="translate(359,76) rotate(60)"><rect x="-8" y="-3" width="16" height="6" fill="#fff"/><text x="0" y="1.9" text-anchor="middle" font-size="5.2" fill="#70c8c0">0.138</text></g>
<g transform="translate(354,152) rotate(-50)"><rect x="-8" y="-3" width="16" height="6" fill="#fff"/><text x="0" y="1.9" text-anchor="middle" font-size="5.2" fill="#70c8b8">0.120</text></g>
<g transform="translate(302,165) rotate(-70)"><rect x="-8" y="-3" width="16" height="6" fill="#fff"/><text x="0" y="1.9" text-anchor="middle" font-size="5.2" fill="#5c8ed0">0.096</text></g>
<rect x="352" y="172" width="17" height="64" fill="#fff" fill-opacity="0.6"/>
<text x="360.5" y="176.5" text-anchor="middle" font-size="5" fill="#8cc890" stroke="#8cc890" stroke-width="0.25">0.132</text>
<text x="360.5" y="180.9" text-anchor="middle" font-size="5" fill="#98cc88" stroke="#98cc88" stroke-width="0.25">0.138</text>
<text x="360.5" y="185.3" text-anchor="middle" font-size="5" fill="#a8d080" stroke="#a8d080" stroke-width="0.25">0.144</text>
<text x="360.5" y="189.7" text-anchor="middle" font-size="5" fill="#b8d478" stroke="#b8d478" stroke-width="0.25">0.150</text>
<text x="360.5" y="194.1" text-anchor="middle" font-size="5" fill="#c8d870" stroke="#c8d870" stroke-width="0.25">0.156</text>
<text x="360.5" y="198.5" text-anchor="middle" font-size="5" fill="#d8d868" stroke="#d8d868" stroke-width="0.25">0.162</text>
<text x="360.5" y="202.9" text-anchor="middle" font-size="5" fill="#e8d460" stroke="#e8d460" stroke-width="0.25">0.168</text>
<text x="360.5" y="207.3" text-anchor="middle" font-size="5" fill="#f0cc60" stroke="#f0cc60" stroke-width="0.25">0.174</text>
<text x="360.5" y="211.7" text-anchor="middle" font-size="5" fill="#f4c060" stroke="#f4c060" stroke-width="0.25">0.180</text>
<text x="360.5" y="216.1" text-anchor="middle" font-size="5" fill="#f4b060" stroke="#f4b060" stroke-width="0.25">0.186</text>
<text x="360.5" y="220.5" text-anchor="middle" font-size="5" fill="#f4a060" stroke="#f4a060" stroke-width="0.25">0.192</text>
<text x="360.5" y="224.9" text-anchor="middle" font-size="5" fill="#f29060" stroke="#f29060" stroke-width="0.25">0.198</text>
<text x="360.5" y="229.3" text-anchor="middle" font-size="5" fill="#f08060" stroke="#f08060" stroke-width="0.25">0.204</text>
<text x="360.5" y="233.7" text-anchor="middle" font-size="5" fill="#ee7060" stroke="#ee7060" stroke-width="0.25">0.210</text>
<defs><linearGradient id="bandg" x1="334" y1="38" x2="382" y2="14" gradientUnits="userSpaceOnUse"><stop offset="0" stop-color="#b4d67e"/><stop offset="0.35" stop-color="#ecd868"/><stop offset="0.65" stop-color="#f4b060"/><stop offset="1" stop-color="#ee7070"/></linearGradient></defs>
<path d="M333,28 L348,20 L362,13 L382.6,12.6 L382.6,23 L368,26 L352,34 L340,39 Z" fill="url(#bandg)" fill-opacity="0.6"/>
<text transform="translate(338.0,31.0) rotate(-28)" text-anchor="middle" font-size="4.6" fill="#a0d080" stroke="#a0d080" stroke-width="0.2">0.180</text>
<text transform="translate(339.2,35.2) rotate(-28)" text-anchor="middle" font-size="4.6" fill="#a0d080" stroke="#a0d080" stroke-width="0.2">0.181</text>
<text transform="translate(340.4,39.4) rotate(-28)" text-anchor="middle" font-size="4.6" fill="#a0d080" stroke="#a0d080" stroke-width="0.2">0.182</text>
<text transform="translate(342.2,29.1) rotate(-28)" text-anchor="middle" font-size="4.6" fill="#b8d470" stroke="#b8d470" stroke-width="0.2">0.186</text>
<text transform="translate(343.4,33.3) rotate(-28)" text-anchor="middle" font-size="4.6" fill="#b8d470" stroke="#b8d470" stroke-width="0.2">0.187</text>
<text transform="translate(344.6,37.5) rotate(-28)" text-anchor="middle" font-size="4.6" fill="#b8d470" stroke="#b8d470" stroke-width="0.2">0.188</text>
<text transform="translate(346.4,27.2) rotate(-28)" text-anchor="middle" font-size="4.6" fill="#d0d868" stroke="#d0d868" stroke-width="0.2">0.192</text>
<text transform="translate(347.6,31.4) rotate(-28)" text-anchor="middle" font-size="4.6" fill="#d0d868" stroke="#d0d868" stroke-width="0.2">0.193</text>
<text transform="translate(348.8,35.6) rotate(-28)" text-anchor="middle" font-size="4.6" fill="#d0d868" stroke="#d0d868" stroke-width="0.2">0.194</text>
<text transform="translate(350.7,25.3) rotate(-28)" text-anchor="middle" font-size="4.6" fill="#e8d460" stroke="#e8d460" stroke-width="0.2">0.198</text>
<text transform="translate(351.9,29.5) rotate(-28)" text-anchor="middle" font-size="4.6" fill="#e8d460" stroke="#e8d460" stroke-width="0.2">0.199</text>
<text transform="translate(353.1,33.7) rotate(-28)" text-anchor="middle" font-size="4.6" fill="#e8d460" stroke="#e8d460" stroke-width="0.2">0.200</text>
<text transform="translate(354.9,23.4) rotate(-28)" text-anchor="middle" font-size="4.6" fill="#f2c860" stroke="#f2c860" stroke-width="0.2">0.204</text>
<text transform="translate(356.1,27.6) rotate(-28)" text-anchor="middle" font-size="4.6" fill="#f2c860" stroke="#f2c860" stroke-width="0.2">0.205</text>
<text transform="translate(357.3,31.8) rotate(-28)" text-anchor="middle" font-size="4.6" fill="#f2c860" stroke="#f2c860" stroke-width="0.2">0.206</text>
<text transform="translate(359.1,21.6) rotate(-28)" text-anchor="middle" font-size="4.6" fill="#f4b860" stroke="#f4b860" stroke-width="0.2">0.210</text>
<text transform="translate(360.3,25.8) rotate(-28)" text-anchor="middle" font-size="4.6" fill="#f4b860" stroke="#f4b860" stroke-width="0.2">0.211</text>
<text transform="translate(361.5,30.0) rotate(-28)" text-anchor="middle" font-size="4.6" fill="#f4b860" stroke="#f4b860" stroke-width="0.2">0.212</text>
<text transform="translate(363.3,19.7) rotate(-28)" text-anchor="middle" font-size="4.6" fill="#f4a460" stroke="#f4a460" stroke-width="0.2">0.216</text>
<text transform="translate(364.5,23.9) rotate(-28)" text-anchor="middle" font-size="4.6" fill="#f4a460" stroke="#f4a460" stroke-width="0.2">0.217</text>
<text transform="translate(365.7,28.1) rotate(-28)" text-anchor="middle" font-size="4.6" fill="#f4a460" stroke="#f4a460" stroke-width="0.2">0.218</text>
<text transform="translate(367.6,17.8) rotate(-28)" text-anchor="middle" font-size="4.6" fill="#f29060" stroke="#f29060" stroke-width="0.2">0.222</text>
<text transform="translate(368.8,22.0) rotate(-28)" text-anchor="middle" font-size="4.6" fill="#f29060" stroke="#f29060" stroke-width="0.2">0.223</text>
<text transform="translate(370.0,26.2) rotate(-28)" text-anchor="middle" font-size="4.6" fill="#f29060" stroke="#f29060" stroke-width="0.2">0.224</text>
<text transform="translate(371.8,15.9) rotate(-28)" text-anchor="middle" font-size="4.6" fill="#f07c70" stroke="#f07c70" stroke-width="0.2">0.228</text>
<text transform="translate(373.0,20.1) rotate(-28)" text-anchor="middle" font-size="4.6" fill="#f07c70" stroke="#f07c70" stroke-width="0.2">0.229</text>
<text transform="translate(374.2,24.3) rotate(-28)" text-anchor="middle" font-size="4.6" fill="#f07c70" stroke="#f07c70" stroke-width="0.2">0.230</text>
<text transform="translate(376.0,14.0) rotate(-28)" text-anchor="middle" font-size="4.6" fill="#ee7070" stroke="#ee7070" stroke-width="0.2">0.234</text>
<text transform="translate(377.2,18.2) rotate(-28)" text-anchor="middle" font-size="4.6" fill="#ee7070" stroke="#ee7070" stroke-width="0.2">0.235</text>
<text transform="translate(378.4,22.4) rotate(-28)" text-anchor="middle" font-size="4.6" fill="#ee7070" stroke="#ee7070" stroke-width="0.2">0.236</text>
<path d="M258.0,12.5 L255.0,22.0 L251.0,35.0 L247.6,50.0 L244.0,60.0 L241.5,68.0 L239.5,78.0 L238.3,90.0 L237.5,110.0 L237.5,165.0 L238.5,175.0 L240.0,190.0 L243.0,205.0 L246.0,218.0 L249.5,230.0 L253.0,241.0" fill="none" stroke="#4646b4" stroke-width="1.7" stroke-dasharray="3.2,3"/>
<path d="M253.8,25 L253.8,205" fill="none" stroke="#7c80cc" stroke-width="1.1" stroke-dasharray="2.5,1.5"/>
<path d="M335.5,12.5 L342.0,15.0 L347.5,19.0 L347.5,243.0" fill="none" stroke="#4646b4" stroke-width="1.7" stroke-dasharray="3.5,4.5"/>
<path d="M348.0,19.0 L353.0,23.5 L393.7,78.6" fill="none" stroke="#4646b4" stroke-width="1.7" stroke-dasharray="3.5,4.5"/>
<path d="M402,95.7 L238,133" fill="none" stroke="#4646b4" stroke-width="1.7" stroke-dasharray="3.5,4.5"/>
<path d="M238,137 L395,172.3" fill="none" stroke="#4646b4" stroke-width="1.7" stroke-dasharray="3.5,4.5"/>
<path d="M407.5,128.0 L407.0,145.0 L403.5,170.0 L395.0,190.0 L384.0,210.0 L372.0,226.0 L359.0,241.0" fill="none" stroke="#4646b4" stroke-width="1.7" stroke-dasharray="3.5,4.5"/>
<path d="M275.5,207.6 L268.0,190.0 L261.9,171.5 L256.5,150.0 L254.8,130.0 L255.3,110.0 L255.9,90.0 L257.0,85.0 L261.0,63.5 L259.3,61.8 L263.8,55.0 L268.0,43.0 L271.9,33.1 L278.5,26.5 L286.7,22.4 L295.0,20.2 L303.2,19.9 L311.4,20.7 L319.7,23.2 L327.9,26.5 L335.0,30.5 L340.0,36.4 L346.0,42.0 L350.0,45.4 L355.3,50.0 L360.5,56.0 L363.0,64.0 L365.0,72.6 L369.6,90.0 L372.5,100.0 L373.3,110.0 L373.0,122.0 L372.6,130.0 L369.0,145.0 L365.0,157.0 L359.8,170.0 L354.0,180.0 L350.0,185.8 L345.0,193.0 L339.5,201.6 L338.0,204.6 L335.3,203.5 L327.8,210.0 L322.1,212.0 L316.5,213.8 L314.6,221.4 L315.5,228.0 L320.2,235.5" fill="none" stroke="#111" stroke-width="1.8" stroke-linejoin="round"/>
<path d="M274.1,208.2 L282.6,211.0 L285.4,213.8 L286.4,221.4 L288.2,226.0 L288.2,231.7 L282.6,235.5" fill="none" stroke="#111" stroke-width="1.8" stroke-linejoin="round"/>
<path d="M286.0,233.0 L294.8,229.8 L299.5,228.9 L303.3,229.8 L308.9,231.7 L314.6,233.6 L320.2,234.5" fill="none" stroke="#111" stroke-width="1.8" stroke-linejoin="round"/>
<rect x="261.5" y="104" width="11.5" height="26" fill="#fff"/>
<text transform="translate(263.5,107.4) rotate(90) scale(0.87,1)" font-size="12.4" font-weight="bold" fill="#000" stroke="#000" stroke-width="0.5">HFS</text>
<path d="M290.4,238.60000000000002 L293.6,237.0" stroke="#3c3cb4" stroke-width="1.6"/>
<path d="M308.9,238.4 L312.1,236.79999999999998" stroke="#3c3cb4" stroke-width="1.6"/>
<path d="M320.9,239.0 L324.1,237.39999999999998" stroke="#3c3cb4" stroke-width="1.6"/>
<path d="M284.9,233.3 L288.1,231.7" stroke="#3c3cb4" stroke-width="1.6"/>
<path d="M298.4,242.3 L301.6,240.7" stroke="#3c3cb4" stroke-width="1.6"/>
<path d="M313.4,242.0 L316.6,240.39999999999998" stroke="#3c3cb4" stroke-width="1.6"/>
<path d="M325.9,227.3 L329.1,225.7" stroke="#3c3cb4" stroke-width="1.6"/>
<path d="M324.4,232.8 L327.6,231.2" stroke="#3c3cb4" stroke-width="1.6"/>
<path d="M250.9,72.8 L254.1,71.2" stroke="#3c3cb4" stroke-width="1.6"/>
<path d="M251.4,28.8 L254.6,27.2" stroke="#3c3cb4" stroke-width="1.6"/>
<path d="M249.0,179.10000000000002 L252.2,177.5" stroke="#3c3cb4" stroke-width="1.6"/>
<path d="M298.9,229.60000000000002 L302.1,228.0" stroke="#3c3cb4" stroke-width="1.6"/>
<circle cx="256.4" cy="48.6" r="2.3" fill="#e8141e" stroke="#a00010" stroke-width="0.6"/>
<circle cx="255.3" cy="57.5" r="2.3" fill="#e8141e" stroke="#a00010" stroke-width="0.6"/>
<circle cx="271.1" cy="25.6" r="2.3" fill="#e8141e" stroke="#a00010" stroke-width="0.6"/>
<circle cx="276.5" cy="19.9" r="2.3" fill="#e8141e" stroke="#a00010" stroke-width="0.6"/>
<circle cx="278.1" cy="21.9" r="2.3" fill="#e8141e" stroke="#a00010" stroke-width="0.6"/>
<circle cx="281.4" cy="16.9" r="2.3" fill="#e8141e" stroke="#a00010" stroke-width="0.6"/>
<circle cx="282.1" cy="18.6" r="2.3" fill="#e8141e" stroke="#a00010" stroke-width="0.6"/>
<circle cx="293.6" cy="16.3" r="2.3" fill="#e8141e" stroke="#a00010" stroke-width="0.6"/>
<circle cx="295" cy="14.6" r="2.3" fill="#e8141e" stroke="#a00010" stroke-width="0.6"/>
<circle cx="307.8" cy="16.3" r="2.3" fill="#e8141e" stroke="#a00010" stroke-width="0.6"/>
<circle cx="311.1" cy="14.6" r="2.3" fill="#e8141e" stroke="#a00010" stroke-width="0.6"/>
<circle cx="320.5" cy="16.9" r="2.3" fill="#e8141e" stroke="#a00010" stroke-width="0.6"/>
<circle cx="322.6" cy="20.7" r="2.3" fill="#e8141e" stroke="#a00010" stroke-width="0.6"/>
<circle cx="344" cy="29.3" r="2.3" fill="#e8141e" stroke="#a00010" stroke-width="0.6"/>
<circle cx="354.5" cy="42.4" r="2.3" fill="#e8141e" stroke="#a00010" stroke-width="0.6"/>
<circle cx="366.9" cy="47.6" r="2.3" fill="#e8141e" stroke="#a00010" stroke-width="0.6"/>
<circle cx="365.8" cy="61.3" r="2.3" fill="#e8141e" stroke="#a00010" stroke-width="0.6"/>
<circle cx="365.8" cy="62.8" r="2.3" fill="#e8141e" stroke="#a00010" stroke-width="0.6"/>
<circle cx="371" cy="72.6" r="2.3" fill="#e8141e" stroke="#a00010" stroke-width="0.6"/>
<circle cx="372.6" cy="74" r="2.3" fill="#e8141e" stroke="#a00010" stroke-width="0.6"/>
<circle cx="373.3" cy="76.8" r="2.3" fill="#e8141e" stroke="#a00010" stroke-width="0.6"/>
<circle cx="385" cy="72.6" r="2.3" fill="#e8141e" stroke="#a00010" stroke-width="0.6"/>
<circle cx="377.4" cy="96" r="2.3" fill="#e8141e" stroke="#a00010" stroke-width="0.6"/>
<circle cx="377.4" cy="97.2" r="2.3" fill="#e8141e" stroke="#a00010" stroke-width="0.6"/>
<circle cx="396.7" cy="100.2" r="2.3" fill="#e8141e" stroke="#a00010" stroke-width="0.6"/>
<circle cx="380" cy="120" r="2.3" fill="#e8141e" stroke="#a00010" stroke-width="0.6"/>
<circle cx="378.6" cy="124.3" r="2.3" fill="#e8141e" stroke="#a00010" stroke-width="0.6"/>
<circle cx="379.7" cy="126.4" r="2.3" fill="#e8141e" stroke="#a00010" stroke-width="0.6"/>
<circle cx="376.7" cy="144.3" r="2.3" fill="#e8141e" stroke="#a00010" stroke-width="0.6"/>
<circle cx="371.8" cy="157.1" r="2.3" fill="#e8141e" stroke="#a00010" stroke-width="0.6"/>
<circle cx="372" cy="159.4" r="2.3" fill="#e8141e" stroke="#a00010" stroke-width="0.6"/>
<circle cx="368.8" cy="166.9" r="2.3" fill="#e8141e" stroke="#a00010" stroke-width="0.6"/>
<circle cx="396.7" cy="170.8" r="2.3" fill="#e8141e" stroke="#a00010" stroke-width="0.6"/>
<circle cx="251.4" cy="98.3" r="2.3" fill="#e8141e" stroke="#a00010" stroke-width="0.6"/>
<circle cx="245.3" cy="121.3" r="2.3" fill="#e8141e" stroke="#a00010" stroke-width="0.6"/>
<circle cx="245.6" cy="149.6" r="2.3" fill="#e8141e" stroke="#a00010" stroke-width="0.6"/>
<circle cx="251.4" cy="172.7" r="2.3" fill="#e8141e" stroke="#a00010" stroke-width="0.6"/>
<circle cx="248.8" cy="185.8" r="2.3" fill="#e8141e" stroke="#a00010" stroke-width="0.6"/>
<circle cx="248.7" cy="84.6" r="2.3" fill="#e8141e" stroke="#a00010" stroke-width="0.6"/>
<circle cx="359.8" cy="180.5" r="2.3" fill="#e8141e" stroke="#a00010" stroke-width="0.6"/>
<circle cx="385" cy="197.9" r="2.3" fill="#e8141e" stroke="#a00010" stroke-width="0.6"/>
<circle cx="347.7" cy="197.1" r="2.3" fill="#e8141e" stroke="#a00010" stroke-width="0.6"/>
<circle cx="366.9" cy="221.9" r="2.3" fill="#e8141e" stroke="#a00010" stroke-width="0.6"/>
<circle cx="344" cy="241.1" r="2.3" fill="#e8141e" stroke="#a00010" stroke-width="0.6"/>
<circle cx="256.3" cy="221.9" r="2.3" fill="#e8141e" stroke="#a00010" stroke-width="0.6"/>
<circle cx="271.3" cy="212.9" r="2.3" fill="#e8141e" stroke="#a00010" stroke-width="0.6"/>
<circle cx="271.5" cy="214.8" r="2.3" fill="#e8141e" stroke="#a00010" stroke-width="0.6"/>
<circle cx="278.8" cy="220.4" r="2.3" fill="#e8141e" stroke="#a00010" stroke-width="0.6"/>
<circle cx="284.5" cy="220.4" r="2.3" fill="#e8141e" stroke="#a00010" stroke-width="0.6"/>
<circle cx="278.8" cy="226.1" r="2.3" fill="#e8141e" stroke="#a00010" stroke-width="0.6"/>
<circle cx="284.5" cy="228.5" r="2.3" fill="#e8141e" stroke="#a00010" stroke-width="0.6"/>
<circle cx="286.4" cy="239.6" r="2.3" fill="#e8141e" stroke="#a00010" stroke-width="0.6"/>
<circle cx="289.2" cy="239.6" r="2.3" fill="#e8141e" stroke="#a00010" stroke-width="0.6"/>
<circle cx="295.8" cy="239.6" r="2.3" fill="#e8141e" stroke="#a00010" stroke-width="0.6"/>
<circle cx="298.6" cy="239.6" r="2.3" fill="#e8141e" stroke="#a00010" stroke-width="0.6"/>
<circle cx="304.2" cy="239.6" r="2.3" fill="#e8141e" stroke="#a00010" stroke-width="0.6"/>
<circle cx="308" cy="239.6" r="2.3" fill="#e8141e" stroke="#a00010" stroke-width="0.6"/>
<circle cx="312.7" cy="239.6" r="2.3" fill="#e8141e" stroke="#a00010" stroke-width="0.6"/>
<circle cx="317.4" cy="239.6" r="2.3" fill="#e8141e" stroke="#a00010" stroke-width="0.6"/>
<circle cx="298.6" cy="236.4" r="2.3" fill="#e8141e" stroke="#a00010" stroke-width="0.6"/>
<circle cx="304.2" cy="236.4" r="2.3" fill="#e8141e" stroke="#a00010" stroke-width="0.6"/>
<circle cx="319.9" cy="221.4" r="2.3" fill="#e8141e" stroke="#a00010" stroke-width="0.6"/>
<circle cx="319.9" cy="223.2" r="2.3" fill="#e8141e" stroke="#a00010" stroke-width="0.6"/>
<circle cx="326.3" cy="224.2" r="2.3" fill="#e8141e" stroke="#a00010" stroke-width="0.6"/>
<circle cx="319.9" cy="228.5" r="2.3" fill="#e8141e" stroke="#a00010" stroke-width="0.6"/>
<circle cx="319.9" cy="230.4" r="2.3" fill="#e8141e" stroke="#a00010" stroke-width="0.6"/>
<circle cx="326.3" cy="229.8" r="2.3" fill="#e8141e" stroke="#a00010" stroke-width="0.6"/>
<rect x="264.7" y="222.3" width="10.3" height="15" fill="none" stroke="#f08080" stroke-width="0.9" stroke-dasharray="2,1"/>
<rect x="339.8" y="220" width="10.2" height="10.3" fill="none" stroke="#f07050" stroke-width="0.9"/>
<line x1="222.5" y1="226" x2="226" y2="226" stroke="#e03030" stroke-width="0.8"/>
<text transform="translate(423.4,241.5) rotate(-90)" font-size="5.4" fill="#333" stroke="#333" stroke-width="0.15">CP516.213-3c</text>
</svg></body></html>
